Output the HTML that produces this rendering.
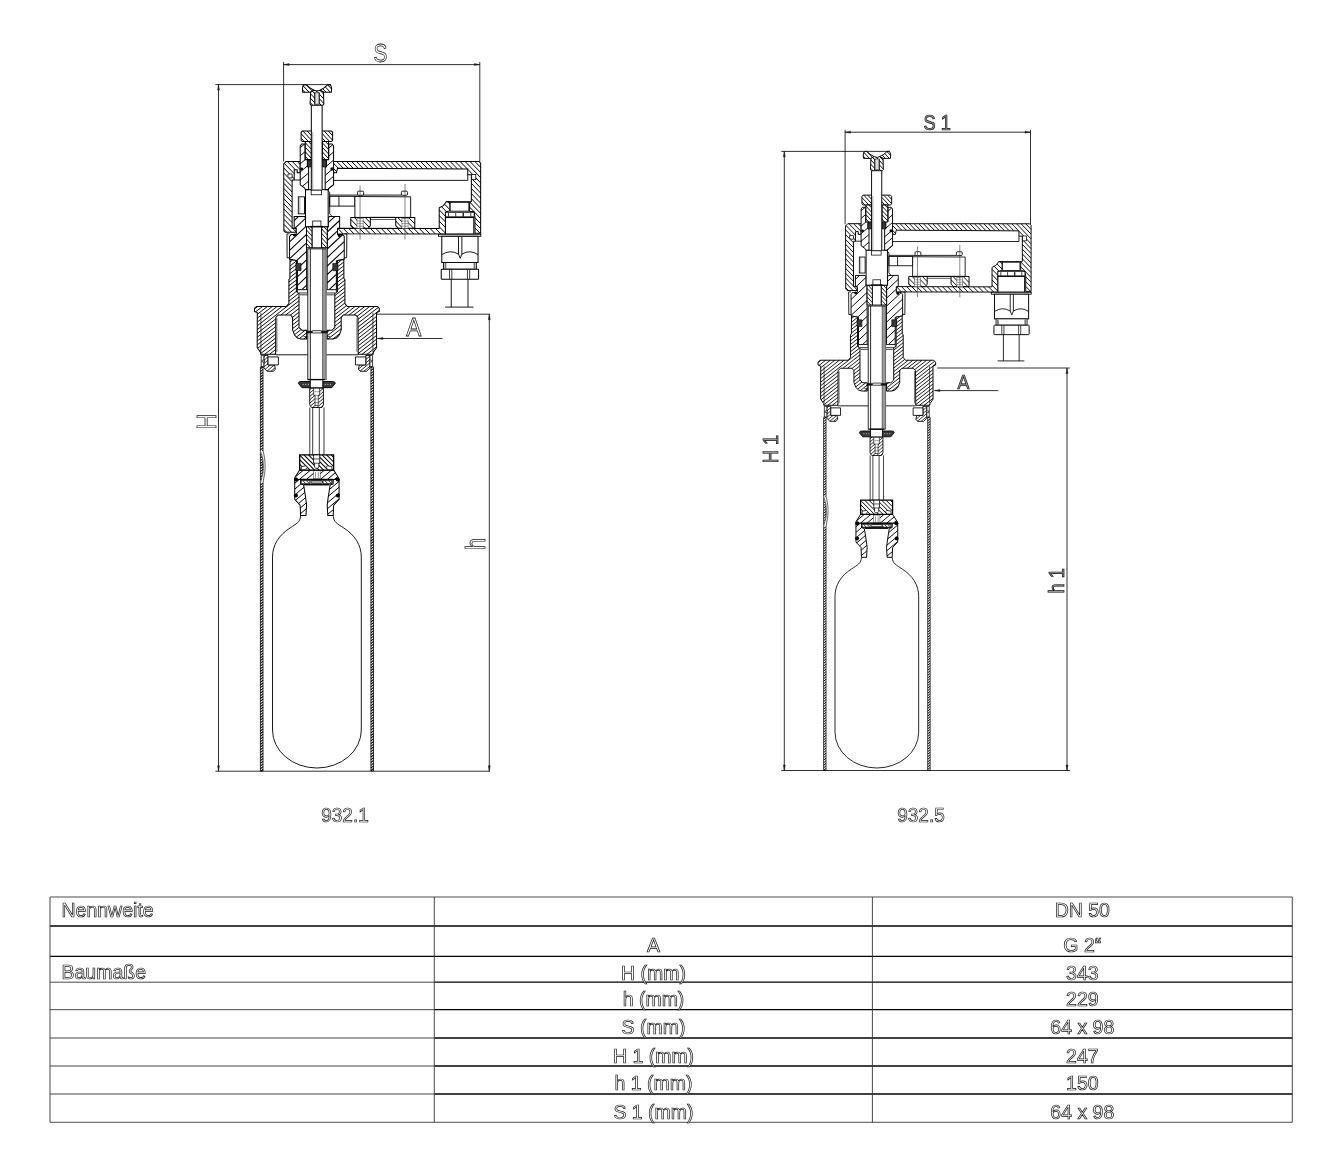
<!DOCTYPE html>
<html lang="de"><head><meta charset="utf-8"><title>932.1 / 932.5</title>
<style>
html,body{margin:0;padding:0;background:#fff;}
svg{display:block;}
text{font-family:"Liberation Sans",sans-serif;}
svg{filter:grayscale(1);}
</style></head><body>
<svg width="1343" height="1166" viewBox="0 0 1343 1166">
<g>
<polygon points="333.23,161.42 479.09,161.53 480.63,163.17 480.63,233.36 474.97,233.36 474.97,216.89 473.94,211.75 469.62,211.23 469.62,202.69 471.37,201.46 471.37,174.70 467.77,174.70 467.77,169.04 337.43,168.33 336.53,172.83 334.13,172.83 333.23,170.43" fill="#fff" stroke="none"/>
<path d="M474.9 161.5L480.6 167.4M470.0 161.5L480.6 172.5M465.1 161.5L480.6 177.6M460.1 161.5L467.4 169.0M467.8 169.4L480.6 182.8M455.2 161.5L462.4 169.0M467.8 174.5L467.9 174.7M471.4 178.3L480.6 187.9M450.2 161.5L457.5 169.0M471.4 183.4L480.6 193.0M445.3 161.5L452.5 169.0M471.4 188.5L480.6 198.1M440.4 161.5L447.5 168.9M471.4 193.6L480.6 203.2M435.4 161.5L442.6 168.9M471.4 198.7L480.6 208.3M430.5 161.5L437.6 168.9M470.0 202.4L480.6 213.4M425.6 161.5L432.7 168.8M469.6 207.1L480.6 218.5M420.6 161.5L427.7 168.8M475.0 217.8L480.6 223.6M415.7 161.5L422.7 168.8M475.0 222.9L480.6 228.7M410.7 161.5L417.8 168.8M475.0 228.0L480.2 233.4M405.8 161.5L412.8 168.7M475.0 233.1L475.2 233.4M400.9 161.5L407.9 168.7M395.9 161.5L402.9 168.7M391.0 161.5L397.9 168.7M386.0 161.5L393.0 168.6M381.1 161.5L388.0 168.6M376.2 161.5L383.0 168.6M371.2 161.4L378.1 168.6M366.3 161.4L373.1 168.5M361.3 161.4L368.2 168.5M356.4 161.4L363.2 168.5M351.5 161.4L358.2 168.4M346.5 161.4L353.3 168.4M341.6 161.4L348.3 168.4M336.7 161.4L343.4 168.4M333.2 163.0L338.4 168.3M333.2 168.1L336.7 171.7" stroke="#000" stroke-width="0.99" fill="none"/>
<polygon points="333.23,161.42 479.09,161.53 480.63,163.17 480.63,233.36 474.97,233.36 474.97,216.89 473.94,211.75 469.62,211.23 469.62,202.69 471.37,201.46 471.37,174.70 467.77,174.70 467.77,169.04 337.43,168.33 336.53,172.83 334.13,172.83 333.23,170.43" fill="none" stroke="#000" stroke-width="1.01"/>
<line x1="333.23" y1="180.40" x2="467.77" y2="180.36" stroke="#000" stroke-width="0.90"/>
<line x1="467.77" y1="174.70" x2="467.77" y2="180.36" stroke="#000" stroke-width="0.90"/>
<rect x="471.68" y="174.49" width="4.11" height="5.15" rx="0" fill="#fff" stroke="#000" stroke-width="0.78"/>
<polygon points="283.70,163.83 286.10,161.42 300.21,161.42 300.21,172.83 297.21,172.83 297.21,169.83 294.21,169.83 294.21,180.03 292.11,180.03 292.13,228.21 296.24,228.21 296.24,232.33 285.44,232.33 283.89,230.79" fill="#fff" stroke="none"/>
<path d="M297.2 161.4L300.2 164.6M292.2 161.4L300.2 169.7M287.3 161.4L295.4 169.8M297.2 171.7L298.3 172.8M284.2 163.3L294.2 173.7M283.7 167.9L294.2 178.8M283.7 173.0L292.1 181.7M283.7 178.2L292.1 186.8M283.8 183.3L292.1 192.0M283.8 188.4L292.1 197.1M283.8 193.5L292.1 202.2M283.8 198.7L292.1 207.3M283.8 203.8L292.1 212.4M283.8 208.9L292.1 217.5M283.8 214.1L292.1 222.6M283.9 219.2L292.1 227.7M292.6 228.2L296.2 232.0M283.9 224.3L291.6 232.3M283.9 229.4L286.7 232.3" stroke="#000" stroke-width="0.99" fill="none"/>
<polygon points="283.70,163.83 286.10,161.42 300.21,161.42 300.21,172.83 297.21,172.83 297.21,169.83 294.21,169.83 294.21,180.03 292.11,180.03 292.13,228.21 296.24,228.21 296.24,232.33 285.44,232.33 283.89,230.79" fill="none" stroke="#000" stroke-width="1.01"/>
<polygon points="287.91,174.03 292.11,174.03 292.11,177.93 289.11,177.93 287.91,176.43" fill="#fff" stroke="#000" stroke-width="0.78"/>
<line x1="294.21" y1="180.03" x2="300.21" y2="180.03" stroke="#000" stroke-width="0.90"/>
<polygon points="337.41,228.21 439.22,228.48 439.22,207.84 443.46,205.61 446.25,201.71 449.93,201.71 449.93,210.63 445.46,212.30 445.46,234.05 337.41,233.87" fill="#fff" stroke="none"/>
<path d="M447.6 201.7L449.9 204.1M444.5 204.1L449.9 209.7M441.5 206.6L446.6 211.9M439.2 209.9L445.5 216.3M439.2 215.5L445.5 222.0M439.2 221.1L445.5 227.6M439.2 226.7L445.5 233.2M435.5 228.5L440.9 234.0M430.1 228.5L435.4 234.0M424.6 228.4L430.0 234.0M419.2 228.4L424.6 234.0M413.7 228.4L419.2 234.0M408.3 228.4L413.7 234.0M402.9 228.4L408.3 234.0M397.4 228.4L402.9 234.0M392.0 228.4L397.4 234.0M386.6 228.3L392.0 234.0M381.1 228.3L386.6 234.0M375.7 228.3L381.1 233.9M370.3 228.3L375.7 233.9M364.8 228.3L370.3 233.9M359.4 228.3L364.8 233.9M354.0 228.3L359.4 233.9M348.5 228.2L354.0 233.9M343.1 228.2L348.6 233.9M337.7 228.2L343.1 233.9M337.4 233.6L337.7 233.9" stroke="#000" stroke-width="0.99" fill="none"/>
<polygon points="337.41,228.21 439.22,228.48 439.22,207.84 443.46,205.61 446.25,201.71 449.93,201.71 449.93,210.63 445.46,212.30 445.46,234.05 337.41,233.87" fill="none" stroke="#000" stroke-width="1.01"/>
<rect x="450.15" y="202.27" width="18.73" height="8.92" rx="0" fill="#fff" stroke="#000" stroke-width="0.90"/>
<line x1="446.25" y1="201.71" x2="470.78" y2="201.71" stroke="#000" stroke-width="1.01"/>
<rect x="445.46" y="212.30" width="28.67" height="4.47" rx="0" fill="#fff" stroke="#000" stroke-width="0.78"/>
<line x1="448.48" y1="212.86" x2="448.48" y2="216.54" stroke="#000" stroke-width="0.78"/>
<line x1="455.72" y1="212.86" x2="455.72" y2="216.54" stroke="#000" stroke-width="0.78"/>
<line x1="463.53" y1="212.86" x2="463.53" y2="216.54" stroke="#000" stroke-width="0.78"/>
<line x1="470.78" y1="212.86" x2="470.78" y2="216.54" stroke="#000" stroke-width="0.78"/>
<line x1="462.97" y1="212.86" x2="462.97" y2="216.54" stroke="#000" stroke-width="0.78"/>
<rect x="445.46" y="217.55" width="28.33" height="16.50" rx="0" fill="#fff" stroke="#000" stroke-width="1.01"/>
<rect x="438.44" y="234.27" width="42.38" height="2.01" rx="0" fill="#fff" stroke="#000" stroke-width="0.90"/>
<rect x="441.78" y="236.28" width="36.25" height="26.21" rx="0" fill="#fff" stroke="#000" stroke-width="1.01"/>
<line x1="458.51" y1="236.28" x2="458.51" y2="254.13" stroke="#000" stroke-width="0.90"/>
<line x1="461.86" y1="236.28" x2="461.86" y2="254.13" stroke="#000" stroke-width="0.90"/>
<path d="M441.78,254.68 Q450.15,249.11 458.51,254.13 L460.19,258.25 L461.86,254.13 Q470.22,249.11 478.03,254.68" fill="none" stroke="#000" stroke-width="0.90"/>
<rect x="443.46" y="262.49" width="32.90" height="6.69" rx="0" fill="#fff" stroke="#000" stroke-width="0.90"/>
<line x1="445.46" y1="263.05" x2="445.46" y2="268.96" stroke="#777" stroke-width="1.79"/>
<line x1="474.46" y1="263.05" x2="474.46" y2="268.96" stroke="#777" stroke-width="1.79"/>
<rect x="441.23" y="269.18" width="37.36" height="10.04" rx="0.8" fill="#fff" stroke="#000" stroke-width="1.01"/>
<line x1="449.59" y1="269.40" x2="449.59" y2="279.00" stroke="#000" stroke-width="0.78"/>
<line x1="451.82" y1="269.40" x2="451.82" y2="279.00" stroke="#000" stroke-width="0.78"/>
<line x1="467.43" y1="269.40" x2="467.43" y2="279.00" stroke="#000" stroke-width="0.78"/>
<line x1="469.67" y1="269.40" x2="469.67" y2="279.00" stroke="#000" stroke-width="0.78"/>
<line x1="451.26" y1="279.22" x2="451.26" y2="307.10" stroke="#000" stroke-width="0.90"/>
<line x1="467.99" y1="279.22" x2="467.99" y2="307.10" stroke="#000" stroke-width="0.90"/>
<line x1="445.13" y1="307.10" x2="473.57" y2="307.10" stroke="#000" stroke-width="0.90"/>
<rect x="329.69" y="196.31" width="25.21" height="9.78" rx="0" fill="#fff" stroke="#000" stroke-width="0.90"/>
<line x1="338.95" y1="196.31" x2="338.95" y2="206.09" stroke="#000" stroke-width="0.90"/>
<polygon points="354.90,196.52 410.65,196.83 410.65,217.41 354.90,217.41" fill="#fff" stroke="#000" stroke-width="0.90"/>
<line x1="329.69" y1="195.08" x2="401.90" y2="195.08" stroke="#000" stroke-width="0.90"/>
<rect x="357.48" y="191.16" width="6.17" height="4.12" rx="1.2" fill="#fff" stroke="#000" stroke-width="0.90"/>
<rect x="401.39" y="191.16" width="6.17" height="4.12" rx="1.2" fill="#fff" stroke="#000" stroke-width="0.90"/>
<polygon points="350.79,217.41 370.34,217.41 370.34,225.64 368.28,228.21 353.36,228.21 350.79,225.64" fill="#fff" stroke="none"/>
<path d="M365.2 217.4L370.3 222.8M359.8 217.4L369.1 227.1M354.3 217.4L364.8 228.2M350.8 219.4L359.3 228.2M350.8 225.0L353.9 228.2" stroke="#000" stroke-width="0.99" fill="none"/>
<polygon points="350.79,217.41 370.34,217.41 370.34,225.64 368.28,228.21 353.36,228.21 350.79,225.64" fill="none" stroke="#000" stroke-width="1.01"/>
<polygon points="395.73,217.41 414.77,217.41 414.77,228.21 398.30,228.21 395.73,225.64" fill="#fff" stroke="none"/>
<path d="M414.0 217.4L414.8 218.2M408.5 217.4L414.8 223.9M403.1 217.4L413.6 228.2M397.7 217.4L408.1 228.2M395.7 221.0L402.7 228.2" stroke="#000" stroke-width="0.99" fill="none"/>
<polygon points="395.73,217.41 414.77,217.41 414.77,228.21 398.30,228.21 395.73,225.64" fill="none" stroke="#000" stroke-width="1.01"/>
<rect x="356.96" y="218.44" width="6.18" height="9.77" rx="0" fill="#fff" stroke="#555" stroke-width="0.56"/>
<rect x="401.90" y="218.44" width="6.18" height="9.77" rx="0" fill="#fff" stroke="#555" stroke-width="0.56"/>
<line x1="356.96" y1="221.01" x2="363.14" y2="221.01" stroke="#555" stroke-width="0.56"/>
<line x1="401.90" y1="221.01" x2="408.08" y2="221.01" stroke="#555" stroke-width="0.56"/>
<line x1="356.96" y1="223.58" x2="363.14" y2="223.58" stroke="#555" stroke-width="0.56"/>
<line x1="401.90" y1="223.58" x2="408.08" y2="223.58" stroke="#555" stroke-width="0.56"/>
<line x1="356.96" y1="226.16" x2="363.14" y2="226.16" stroke="#555" stroke-width="0.56"/>
<line x1="401.90" y1="226.16" x2="408.08" y2="226.16" stroke="#555" stroke-width="0.56"/>
<line x1="370.34" y1="217.41" x2="395.73" y2="217.41" stroke="#000" stroke-width="0.90"/>
<line x1="370.34" y1="219.47" x2="395.73" y2="219.47" stroke="#000" stroke-width="0.67"/>
<line x1="360.05" y1="185.50" x2="360.05" y2="239.53" stroke="#444" stroke-width="0.67"/>
<line x1="404.99" y1="183.96" x2="404.99" y2="239.53" stroke="#444" stroke-width="0.67"/>
<polygon points="289.55,259.09 289.55,236.45 291.10,234.39 296.24,234.39 296.24,228.21 294.18,228.21 294.18,216.38 304.48,216.38 305.50,217.92 305.50,226.67 306.53,226.67 306.67,289.69 297.41,289.69 297.41,260.87 289.69,259.33" fill="#fff" stroke="none"/>
<path d="M294.2 220.5L298.6 216.4M295.0 228.2L305.5 218.4M289.6 241.8L305.7 226.7M289.6 250.3L306.5 234.4M289.6 258.7L306.6 242.9M296.5 260.7L306.6 251.3M297.4 268.4L306.6 259.8M297.4 276.8L306.6 268.2M297.4 285.3L306.6 276.7M301.8 289.7L306.7 285.2" stroke="#000" stroke-width="1.03" fill="none"/>
<polygon points="289.55,259.09 289.55,236.45 291.10,234.39 296.24,234.39 296.24,228.21 294.18,228.21 294.18,216.38 304.48,216.38 305.50,217.92 305.50,226.67 306.53,226.67 306.67,289.69 297.41,289.69 297.41,260.87 289.69,259.33" fill="none" stroke="#000" stroke-width="1.01"/>
<polygon points="344.25,259.09 344.25,236.45 342.70,234.39 337.56,234.39 337.56,228.21 339.62,228.21 339.62,216.38 329.32,216.38 328.30,217.92 328.30,226.67 327.27,226.67 327.13,289.69 336.39,289.69 336.39,260.87 344.11,259.33" fill="#fff" stroke="none"/>
<path d="M328.3 222.6L335.0 216.4M327.3 232.0L339.6 220.5M327.2 240.5L337.6 230.9M327.2 249.0L342.8 234.5M327.2 257.5L344.2 241.6M327.2 266.0L344.2 250.1M327.2 274.5L336.4 265.9M343.3 259.5L344.2 258.6M327.1 283.0L336.4 274.4M329.1 289.7L336.4 282.9" stroke="#000" stroke-width="1.03" fill="none"/>
<polygon points="344.25,259.09 344.25,236.45 342.70,234.39 337.56,234.39 337.56,228.21 339.62,228.21 339.62,216.38 329.32,216.38 328.30,217.92 328.30,226.67 327.27,226.67 327.13,289.69 336.39,289.69 336.39,260.87 344.11,259.33" fill="none" stroke="#000" stroke-width="1.01"/>
<polyline points="289.55,233.87 286.98,233.87 287.12,257.79 289.69,257.79" fill="none" stroke="#000" stroke-width="0.90"/>
<polyline points="344.25,233.87 346.82,233.87 346.68,257.79 344.11,257.79" fill="none" stroke="#000" stroke-width="0.90"/>
<circle cx="294.49" cy="235.01" r="1.3" fill="#111"/>
<circle cx="339.16" cy="235.42" r="1.3" fill="#111"/>
<polyline points="328.15,191.16 329.69,192.19 329.69,213.81 331.75,216.07" fill="none" stroke="#000" stroke-width="0.90"/>
<polygon points="306.53,226.67 312.19,226.67 312.19,247.77 306.53,247.77" fill="#fff" stroke="none"/>
<path d="M311.6 226.7L312.2 227.3M307.6 226.7L312.2 231.8M306.5 230.0L312.2 236.3M306.5 234.5L312.2 240.8M306.5 239.0L312.2 245.3M306.5 243.5L310.4 247.8" stroke="#000" stroke-width="0.89" fill="none"/>
<polygon points="306.53,226.67 312.19,226.67 312.19,247.77 306.53,247.77" fill="none" stroke="#000" stroke-width="1.01"/>
<polygon points="327.27,226.67 321.61,226.67 321.61,247.77 327.27,247.77" fill="#fff" stroke="none"/>
<path d="M323.7 226.7L327.3 230.6M321.6 228.8L327.3 235.1M321.6 233.3L327.3 239.6M321.6 237.8L327.3 244.1M321.6 242.3L326.6 247.8M321.6 246.8L322.5 247.8" stroke="#000" stroke-width="0.89" fill="none"/>
<polygon points="327.27,226.67 321.61,226.67 321.61,247.77 327.27,247.77" fill="none" stroke="#000" stroke-width="1.01"/>
<rect x="305.50" y="189.62" width="22.65" height="37.05" rx="0" fill="#fff" stroke="#000" stroke-width="1.01"/>
<rect x="311.16" y="189.62" width="10.30" height="5.15" rx="0" fill="#fff" stroke="#000" stroke-width="0.78"/>
<rect x="312.71" y="221.01" width="8.23" height="5.66" rx="0" fill="#fff" stroke="#000" stroke-width="0.78"/>
<line x1="310.65" y1="189.72" x2="321.97" y2="189.72" stroke="#000" stroke-width="1.79"/>
<line x1="310.65" y1="226.77" x2="323.00" y2="226.77" stroke="#000" stroke-width="1.79"/>
<rect x="298.30" y="196.83" width="6.18" height="16.98" rx="0" fill="#fff" stroke="#000" stroke-width="0.90"/>
<line x1="299.84" y1="196.83" x2="299.84" y2="213.81" stroke="#666" stroke-width="0.56"/>
<rect x="312.19" y="226.98" width="9.27" height="20.79" rx="0" fill="#fff" stroke="#000" stroke-width="0.90"/>
<polygon points="300.21,145.81 301.71,144.01 305.02,144.01 305.02,159.32 307.42,159.32 307.42,166.83 308.62,166.83 308.59,189.62 305.50,189.62 304.42,187.84 300.21,184.84" fill="#fff" stroke="none"/>
<path d="M300.2 147.7L304.6 144.0M300.2 155.8L305.0 151.7M300.2 163.9L305.6 159.3M300.2 172.0L307.4 165.9M300.2 180.0L308.6 173.0M302.3 186.4L308.6 181.1M308.1 189.6L308.6 189.2" stroke="#000" stroke-width="0.99" fill="none"/>
<polygon points="300.21,145.81 301.71,144.01 305.02,144.01 305.02,159.32 307.42,159.32 307.42,166.83 308.62,166.83 308.59,189.62 305.50,189.62 304.42,187.84 300.21,184.84" fill="none" stroke="#000" stroke-width="1.01"/>
<polygon points="333.59,145.81 332.09,144.01 328.78,144.01 328.78,159.32 326.38,159.32 326.38,166.83 325.18,166.83 325.21,189.62 328.30,189.62 329.38,187.84 333.59,184.84" fill="#fff" stroke="none"/>
<path d="M328.8 148.0L332.7 144.7M328.8 156.1L333.6 152.0M325.2 167.2L325.6 166.8M326.4 166.2L333.6 160.1M325.2 175.3L333.6 168.2M325.2 183.4L333.6 176.3M327.4 189.6L329.3 188.0M330.2 187.3L333.6 184.4" stroke="#000" stroke-width="0.99" fill="none"/>
<polygon points="333.59,145.81 332.09,144.01 328.78,144.01 328.78,159.32 326.38,159.32 326.38,166.83 325.18,166.83 325.21,189.62 328.30,189.62 329.38,187.84 333.59,184.84" fill="none" stroke="#000" stroke-width="1.01"/>
<polygon points="307.42,160.10 311.62,160.10 311.62,166.95 307.42,166.95" fill="#383838" stroke="#000" stroke-width="0.67"/>
<polygon points="326.38,160.10 322.18,160.10 322.18,166.95 326.38,166.95" fill="#383838" stroke="#000" stroke-width="0.67"/>
<polygon points="302.31,131.11 331.43,131.11 332.63,132.31 332.63,140.41 331.43,141.61 302.31,141.61 301.11,140.41 301.11,132.31" fill="#fff" stroke="none"/>
<path d="M328.4 131.1L332.6 135.7M324.2 131.1L332.6 140.2M319.9 131.1L329.7 141.6M315.7 131.1L325.5 141.6M311.4 131.1L321.2 141.6M307.2 131.1L317.0 141.6M303.0 131.1L312.7 141.6M301.1 133.7L308.5 141.6M301.1 138.2L304.3 141.6" stroke="#000" stroke-width="0.99" fill="none"/>
<polygon points="302.31,131.11 331.43,131.11 332.63,132.31 332.63,140.41 331.43,141.61 302.31,141.61 301.11,140.41 301.11,132.31" fill="none" stroke="#000" stroke-width="1.01"/>
<polygon points="305.32,141.61 311.32,141.61 311.32,159.62 305.32,159.62" fill="#fff" stroke="none"/>
<path d="M308.5 141.6L311.3 144.6M305.3 142.7L311.3 149.2M305.3 147.3L311.3 153.7M305.3 151.8L311.3 158.3M305.3 156.4L308.4 159.6" stroke="#000" stroke-width="0.99" fill="none"/>
<polygon points="305.32,141.61 311.32,141.61 311.32,159.62 305.32,159.62" fill="none" stroke="#000" stroke-width="1.01"/>
<polygon points="328.48,141.61 322.48,141.61 322.48,159.62 328.48,159.62" fill="#fff" stroke="none"/>
<path d="M325.5 141.6L328.5 144.8M322.5 143.0L328.5 149.4M322.5 147.5L328.5 153.9M322.5 152.0L328.5 158.5M322.5 156.6L325.3 159.6" stroke="#000" stroke-width="0.99" fill="none"/>
<polygon points="328.48,141.61 322.48,141.61 322.48,159.62 328.48,159.62" fill="none" stroke="#000" stroke-width="1.01"/>
<rect x="311.32" y="105.2" width="10.81" height="84.42" fill="#fff"/>
<line x1="311.32" y1="105.20" x2="311.32" y2="189.62" stroke="#000" stroke-width="1.01"/>
<line x1="322.13" y1="105.20" x2="322.13" y2="189.62" stroke="#000" stroke-width="1.01"/>
<line x1="312.72" y1="132.20" x2="312.72" y2="189.62" stroke="#555" stroke-width="0.56"/>
<polygon points="302.42,88.52 303.14,85.64 304.48,84.72 306.23,84.72 309.62,87.70 314.05,90.27 310.65,92.13 302.73,92.13" fill="#fff" stroke="none"/>
<path d="M306.8 85.2L312.4 91.2M303.1 85.8L309.0 92.1M302.5 89.7L304.8 92.1" stroke="#000" stroke-width="0.99" fill="none"/>
<polygon points="302.42,88.52 303.14,85.64 304.48,84.72 306.23,84.72 309.62,87.70 314.05,90.27 310.65,92.13 302.73,92.13" fill="none" stroke="#000" stroke-width="1.01"/>
<polygon points="331.64,88.52 330.92,85.64 329.58,84.72 327.83,84.72 324.44,87.70 320.01,90.27 323.41,92.13 331.33,92.13" fill="#fff" stroke="none"/>
<path d="M327.7 84.9L331.6 89.1M325.3 86.9L330.2 92.1M322.7 88.7L326.0 92.1" stroke="#000" stroke-width="0.99" fill="none"/>
<polygon points="331.64,88.52 330.92,85.64 329.58,84.72 327.83,84.72 324.44,87.70 320.01,90.27 323.41,92.13 331.33,92.13" fill="none" stroke="#000" stroke-width="1.01"/>
<polygon points="310.65,92.13 314.05,90.27 317.03,91.10 320.02,90.27 323.51,92.13 323.82,103.96 322.79,105.20 311.16,105.20 310.14,103.96" fill="#fff" stroke="none"/>
<path d="M320.0 90.3L323.6 94.1M316.3 90.9L323.7 98.8M312.4 91.2L323.8 103.5M310.6 93.8L321.2 105.2M310.4 98.2L316.9 105.2M310.2 102.5L312.7 105.2" stroke="#000" stroke-width="0.99" fill="none"/>
<polygon points="310.65,92.13 314.05,90.27 317.03,91.10 320.02,90.27 323.51,92.13 323.82,103.96 322.79,105.20 311.16,105.20 310.14,103.96" fill="none" stroke="#000" stroke-width="1.01"/>
<rect x="314.46" y="92.85" width="5.14" height="11.32" rx="0" fill="#fff" stroke="#000" stroke-width="0.78"/>
<rect x="315.28" y="92.85" width="3.50" height="11.32" rx="0" fill="#ddd" stroke="#555" stroke-width="0.56"/>
<polygon points="290.00,259.50 289.90,278.50 288.90,279.50 288.90,303.50 286.50,306.40 256.50,306.40 254.50,308.40 254.50,311.50 257.30,312.60 257.20,347.70 260.60,352.50 260.60,354.20 275.60,354.20 275.80,317.50 278.30,314.90 290.50,314.90 292.60,317.50 292.60,330.00 294.50,335.00 297.50,338.00 301.00,339.10 306.70,339.10 306.70,330.30 302.00,330.30 299.00,327.50 299.00,291.70 296.40,291.70 296.40,260.50" fill="#fff" stroke="none"/>
<path d="M290.0 262.1L292.8 259.9M290.0 266.0L296.4 260.9M289.9 269.8L296.4 264.8M289.9 273.6L296.4 268.6M289.9 277.4L296.4 272.4M254.5 308.9L257.7 306.4M288.9 282.0L296.4 276.2M255.5 311.9L262.6 306.4M288.9 285.8L296.4 280.0M257.3 314.3L267.5 306.4M288.9 289.6L296.4 283.8M257.3 318.2L272.3 306.4M288.9 293.5L296.4 287.6M257.3 322.0L277.2 306.4M288.9 297.3L296.4 291.4M257.3 325.8L282.1 306.4M288.9 301.1L299.0 293.2M257.3 329.6L299.0 297.0M257.2 333.4L275.8 318.9M280.9 314.9L299.0 300.8M257.2 337.2L275.8 322.7M285.8 314.9L299.0 304.6M257.2 341.0L275.8 326.6M290.6 315.0L299.0 308.4M257.2 344.9L275.7 330.4M292.5 317.3L299.0 312.2M257.6 348.3L275.7 334.2M292.6 321.0L299.0 316.0M259.4 350.8L275.7 338.0M292.6 324.8L299.0 319.8M260.6 353.6L275.7 341.9M292.6 328.6L299.0 323.6M264.8 354.2L275.6 345.7M293.3 331.9L299.0 327.4M269.6 354.2L275.6 349.5M294.4 334.8L301.2 329.5M274.5 354.2L275.6 353.3M296.5 337.0L305.1 330.3M299.4 338.6L306.7 332.8M303.6 339.1L306.7 336.7" stroke="#000" stroke-width="0.94" fill="none"/>
<polygon points="290.00,259.50 289.90,278.50 288.90,279.50 288.90,303.50 286.50,306.40 256.50,306.40 254.50,308.40 254.50,311.50 257.30,312.60 257.20,347.70 260.60,352.50 260.60,354.20 275.60,354.20 275.80,317.50 278.30,314.90 290.50,314.90 292.60,317.50 292.60,330.00 294.50,335.00 297.50,338.00 301.00,339.10 306.70,339.10 306.70,330.30 302.00,330.30 299.00,327.50 299.00,291.70 296.40,291.70 296.40,260.50" fill="none" stroke="#000" stroke-width="1.01"/>
<polygon points="343.80,259.50 343.90,278.50 344.90,279.50 344.90,303.50 347.30,306.40 377.30,306.40 379.30,308.40 379.30,311.50 376.50,312.60 376.60,347.70 373.20,352.50 373.20,354.20 358.20,354.20 358.00,317.50 355.50,314.90 343.30,314.90 341.20,317.50 341.20,330.00 339.30,335.00 336.30,338.00 332.80,339.10 327.10,339.10 327.10,330.30 331.80,330.30 334.80,327.50 334.80,291.70 337.40,291.70 337.40,260.50" fill="#fff" stroke="none"/>
<path d="M337.4 263.2L341.7 259.8M337.4 267.0L343.8 262.0M337.4 270.8L343.8 265.8M337.4 274.6L343.9 269.6M337.4 278.4L343.9 273.3M337.4 282.2L343.9 277.1M337.4 286.0L344.9 280.2M334.8 291.9L335.0 291.7M337.4 289.8L344.9 284.0M334.8 295.7L344.9 287.8M334.8 299.5L344.9 291.6M334.8 303.3L344.9 295.4M334.8 307.1L344.9 299.2M334.8 310.9L344.9 303.0M334.8 314.7L346.6 305.5M334.8 318.5L350.3 306.4M334.8 322.3L341.6 317.0M344.3 314.9L355.2 306.4M327.1 332.1L329.5 330.3M334.8 326.1L341.2 321.1M349.2 314.9L360.0 306.4M327.1 335.9L341.2 324.9M354.0 314.9L364.9 306.4M327.9 339.1L341.2 328.7M357.0 316.4L369.8 306.4M332.8 339.1L339.8 333.6M358.0 319.4L374.7 306.4M358.0 323.2L378.3 307.4M358.1 327.0L379.3 310.4M358.1 330.8L376.5 316.4M358.1 334.6L376.5 320.2M358.1 338.4L376.5 324.0M358.1 342.2L376.5 327.8M358.2 345.9L376.6 331.6M358.2 349.7L376.6 335.4M358.2 353.5L376.6 339.2M362.2 354.2L376.6 343.0M367.1 354.2L376.6 346.8M372.0 354.2L373.2 353.2" stroke="#000" stroke-width="0.94" fill="none"/>
<polygon points="343.80,259.50 343.90,278.50 344.90,279.50 344.90,303.50 347.30,306.40 377.30,306.40 379.30,308.40 379.30,311.50 376.50,312.60 376.60,347.70 373.20,352.50 373.20,354.20 358.20,354.20 358.00,317.50 355.50,314.90 343.30,314.90 341.20,317.50 341.20,330.00 339.30,335.00 336.30,338.00 332.80,339.10 327.10,339.10 327.10,330.30 331.80,330.30 334.80,327.50 334.80,291.70 337.40,291.70 337.40,260.50" fill="none" stroke="#000" stroke-width="1.01"/>
<polyline points="260.90,312.80 260.90,352.00" fill="none" stroke="#000" stroke-width="0.67"/>
<polyline points="372.90,312.80 372.90,352.00" fill="none" stroke="#000" stroke-width="0.67"/>
<polyline points="276.90,318.00 276.90,352.00" fill="none" stroke="#000" stroke-width="0.56"/>
<polyline points="356.90,318.00 356.90,352.00" fill="none" stroke="#000" stroke-width="0.56"/>
<polygon points="295.86,263.45 301.01,263.45 301.01,270.65 295.86,270.65" fill="#383838" stroke="#000" stroke-width="0.67"/>
<polygon points="337.94,263.45 332.79,263.45 332.79,270.65 337.94,270.65" fill="#383838" stroke="#000" stroke-width="0.67"/>
<polygon points="297.41,289.69 307.70,289.69 307.70,292.98 297.41,292.98" fill="#fff" stroke="#000" stroke-width="0.78"/>
<polygon points="336.39,289.69 326.10,289.69 326.10,292.98 336.39,292.98" fill="#fff" stroke="#000" stroke-width="0.78"/>
<polyline points="299.98,294.83 307.70,294.83" fill="none" stroke="#000" stroke-width="0.78"/>
<polyline points="333.82,294.83 326.10,294.83" fill="none" stroke="#000" stroke-width="0.78"/>
<polyline points="303.58,336.51 306.67,336.51 306.67,339.09" fill="none" stroke="#000" stroke-width="0.67"/>
<polyline points="330.22,336.51 327.13,336.51 327.13,339.09" fill="none" stroke="#000" stroke-width="0.67"/>
<polyline points="275.80,354.80 307.80,354.80" fill="none" stroke="#000" stroke-width="0.90"/>
<polyline points="358.00,354.80 326.00,354.80" fill="none" stroke="#000" stroke-width="0.90"/>
<polygon points="263.83,355.40 268.00,355.40 268.00,364.93 274.55,364.93 275.38,369.10 273.60,371.24 267.16,371.24 263.83,367.91" fill="#fff" stroke="none"/>
<path d="M263.8 356.9L265.6 355.4M263.8 360.3L268.0 356.8M263.8 363.7L268.0 360.2M263.8 367.0L268.0 363.5M265.2 369.3L270.4 364.9M267.1 371.1L274.4 364.9M271.0 371.2L275.1 367.8" stroke="#000" stroke-width="0.8" fill="none"/>
<polygon points="263.83,355.40 268.00,355.40 268.00,364.93 274.55,364.93 275.38,369.10 273.60,371.24 267.16,371.24 263.83,367.91" fill="none" stroke="#000" stroke-width="0.90"/>
<polygon points="369.97,355.40 365.80,355.40 365.80,364.93 359.25,364.93 358.42,369.10 360.20,371.24 366.64,371.24 369.97,367.91" fill="#fff" stroke="none"/>
<path d="M365.8 356.2L366.7 355.4M359.2 365.1L359.4 364.9M365.8 359.5L370.0 356.0M358.4 369.1L363.4 364.9M365.8 362.9L370.0 359.4M360.1 371.1L370.0 362.8M364.0 371.2L370.0 366.2" stroke="#000" stroke-width="0.8" fill="none"/>
<polygon points="369.97,355.40 365.80,355.40 365.80,364.93 359.25,364.93 358.42,369.10 360.20,371.24 366.64,371.24 369.97,367.91" fill="none" stroke="#000" stroke-width="0.90"/>
<polygon points="268.00,356.95 278.36,356.95 278.36,364.93 268.00,364.93" fill="#fff" stroke="#000" stroke-width="0.90"/>
<polygon points="365.80,356.95 355.44,356.95 355.44,364.93 365.80,364.93" fill="#fff" stroke="#000" stroke-width="0.90"/>
<polygon points="261.21,355.40 263.83,355.40 263.83,366.72 261.21,366.72" fill="#fff" stroke="#000" stroke-width="0.78"/>
<polygon points="372.59,355.40 369.97,355.40 369.97,366.72 372.59,366.72" fill="#fff" stroke="#000" stroke-width="0.78"/>
<polygon points="262.04,360.16 264.42,360.16 264.42,361.95 262.04,361.95" fill="#fff" stroke="#000" stroke-width="0.67"/>
<polygon points="371.76,360.16 369.38,360.16 369.38,361.95 371.76,361.95" fill="#fff" stroke="#000" stroke-width="0.67"/>
<rect x="307.8" y="248.83" width="18.6" height="131.23" fill="#fff"/>
<rect x="322.6" y="248.83" width="3.6" height="131.23" fill="#999"/>
<line x1="307.80" y1="248.83" x2="307.80" y2="380.06" stroke="#000" stroke-width="0.90"/>
<line x1="310.30" y1="248.83" x2="310.30" y2="380.06" stroke="#000" stroke-width="0.90"/>
<line x1="322.60" y1="248.83" x2="322.60" y2="380.06" stroke="#444" stroke-width="0.78"/>
<line x1="326.20" y1="248.83" x2="326.20" y2="380.06" stroke="#444" stroke-width="0.78"/>
<line x1="307.80" y1="248.83" x2="326.20" y2="248.83" stroke="#000" stroke-width="0.90"/>
<polygon points="306.67,331.16 312.33,331.16 312.33,332.91 306.67,332.91" fill="#111" stroke="#000" stroke-width="0.56"/>
<polygon points="327.13,331.16 321.47,331.16 321.47,332.91 327.13,332.91" fill="#111" stroke="#000" stroke-width="0.56"/>
<line x1="312.33" y1="330.65" x2="321.59" y2="330.65" stroke="#000" stroke-width="0.78"/>
<line x1="312.33" y1="332.91" x2="321.59" y2="332.91" stroke="#000" stroke-width="0.78"/>
<path d="M298.38,383.4 Q298.38,381.49 301.0,381.49 L332.69,381.49 Q335.31,381.49 335.31,383.4 L331.73,387.68 L301.95,387.68 Z" fill="#383838" stroke="#000" stroke-width="0.90"/>
<circle cx="303.14" cy="384.35" r="0.55" fill="#ddd"/>
<circle cx="305.76" cy="384.35" r="0.55" fill="#ddd"/>
<circle cx="308.38" cy="384.35" r="0.55" fill="#ddd"/>
<circle cx="325.3" cy="384.35" r="0.55" fill="#ddd"/>
<circle cx="327.92" cy="384.35" r="0.55" fill="#ddd"/>
<circle cx="330.54" cy="384.35" r="0.55" fill="#ddd"/>
<rect x="310.29" y="379.58" width="12.51" height="8.34" rx="0" fill="#fff" stroke="#000" stroke-width="0.90"/>
<line x1="307.91" y1="379.58" x2="325.18" y2="379.58" stroke="#000" stroke-width="1.34"/>
<polygon points="309.69,388.16 323.40,388.16 323.40,404.84 321.97,407.46 311.48,407.46 309.69,404.84" fill="#fff" stroke="none"/>
<path d="M309.7 389.7L311.5 388.2M309.7 393.1L315.5 388.2M309.7 396.4L319.6 388.2M309.7 399.8L323.4 388.3M309.7 403.2L323.4 391.7M310.5 406.0L323.4 395.1M312.7 407.5L323.4 398.5M316.8 407.5L323.4 401.9M320.8 407.5L322.9 405.7" stroke="#000" stroke-width="0.8" fill="none"/>
<polygon points="309.69,388.16 323.40,388.16 323.40,404.84 321.97,407.46 311.48,407.46 309.69,404.84" fill="none" stroke="#000" stroke-width="0.90"/>
<polygon points="313.63,388.16 319.58,388.16 319.58,395.31 318.27,395.31 318.27,405.44 315.06,405.44 315.06,395.31 313.63,395.31" fill="#fff" stroke="#000" stroke-width="0.67"/>
<line x1="314.46" y1="391.73" x2="318.87" y2="391.73" stroke="#444" stroke-width="0.56"/>
<line x1="314.46" y1="395.31" x2="318.87" y2="395.31" stroke="#444" stroke-width="0.56"/>
<line x1="314.46" y1="398.88" x2="318.87" y2="398.88" stroke="#444" stroke-width="0.56"/>
<line x1="314.46" y1="402.46" x2="318.87" y2="402.46" stroke="#444" stroke-width="0.56"/>
<line x1="309.80" y1="407.46" x2="309.80" y2="454.80" stroke="#000" stroke-width="0.78"/>
<line x1="312.70" y1="407.46" x2="312.70" y2="454.80" stroke="#000" stroke-width="0.78"/>
<line x1="319.30" y1="407.46" x2="319.30" y2="454.80" stroke="#000" stroke-width="0.78"/>
<line x1="324.00" y1="407.46" x2="324.00" y2="454.80" stroke="#000" stroke-width="0.78"/>
<polygon points="299.67,470.05 333.63,470.05 338.58,477.83 338.58,479.48 294.72,479.48 294.72,477.83" fill="#fff" stroke="none"/>
<path d="M295.3 476.9L303.5 470.1M299.3 479.5L310.5 470.1M306.3 479.5L317.5 470.1M313.3 479.5L324.5 470.1M320.3 479.5L331.5 470.1M327.3 479.5L335.3 472.7M334.3 479.5L337.8 476.5" stroke="#000" stroke-width="0.99" fill="none"/>
<polygon points="299.67,470.05 333.63,470.05 338.58,477.83 338.58,479.48 294.72,479.48 294.72,477.83" fill="none" stroke="#000" stroke-width="1.01"/>
<rect x="313.58" y="470.75" width="6.61" height="8.12" rx="0" fill="#fff" stroke="#444" stroke-width="0.56"/>
<line x1="315.47" y1="472.17" x2="315.47" y2="478.87" stroke="#444" stroke-width="0.56"/>
<line x1="318.30" y1="472.17" x2="318.30" y2="478.87" stroke="#444" stroke-width="0.56"/>
<polygon points="299.67,454.95 333.63,454.95 333.63,470.05 299.67,470.05" fill="#fff" stroke="none"/>
<path d="M331.1 454.9L333.6 457.5M326.6 454.9L333.6 462.0M322.0 454.9L333.6 466.5M317.5 454.9L332.6 470.1M313.0 454.9L328.1 470.1M308.5 454.9L323.6 470.1M303.9 454.9L319.0 470.1M299.7 455.2L314.5 470.1M299.7 459.7L310.0 470.1M299.7 464.3L305.5 470.1M299.7 468.8L300.9 470.1" stroke="#000" stroke-width="1.03" fill="none"/>
<polygon points="299.67,454.95 333.63,454.95 333.63,470.05 299.67,470.05" fill="none" stroke="#000" stroke-width="1.34"/>
<polygon points="313.58,454.95 319.72,454.95 319.72,463.21 318.87,463.21 318.87,466.98 317.83,468.30 315.47,468.30 314.43,466.98 314.43,463.21 313.58,463.21" fill="#fff" stroke="#000" stroke-width="0.78"/>
<line x1="313.58" y1="458.96" x2="319.72" y2="458.96" stroke="#000" stroke-width="0.67"/>
<line x1="313.58" y1="463.21" x2="319.72" y2="463.21" stroke="#000" stroke-width="0.67"/>
<polygon points="301.32,466.60 306.04,465.80 307.22,467.22 305.57,469.72 301.32,469.72" fill="#fff" stroke="#000" stroke-width="0.78"/>
<polygon points="331.98,466.60 327.26,465.80 326.08,467.22 327.74,469.72 331.98,469.72" fill="#fff" stroke="#000" stroke-width="0.78"/>
<polygon points="294.72,479.48 300.61,479.48 300.61,483.96 303.68,485.14 305.57,497.17 306.60,505.00 306.00,515.60 300.60,515.60 300.14,505.19 294.72,499.29" fill="#fff" stroke="none"/>
<path d="M294.7 483.3L299.3 479.5M294.7 489.2L300.8 484.0M294.7 495.0L304.0 487.2M295.6 500.2L304.8 492.4M298.6 503.5L305.6 497.6M300.3 508.0L306.3 502.9M300.5 513.7L306.4 508.7M305.2 515.6L306.0 514.9" stroke="#000" stroke-width="0.99" fill="none"/>
<polygon points="294.72,479.48 300.61,479.48 300.61,483.96 303.68,485.14 305.57,497.17 306.60,505.00 306.00,515.60 300.60,515.60 300.14,505.19 294.72,499.29" fill="none" stroke="#000" stroke-width="1.01"/>
<polygon points="339.08,479.48 333.19,479.48 333.19,483.96 330.12,485.14 328.23,497.17 327.20,505.00 327.80,515.60 333.20,515.60 333.66,505.19 339.08,499.29" fill="#fff" stroke="none"/>
<path d="M333.2 480.4L334.3 479.5M329.5 489.4L339.1 481.3M328.4 496.2L339.1 487.2M327.5 502.8L339.1 493.1M327.4 508.7L339.1 498.9M327.7 514.3L333.5 509.5" stroke="#000" stroke-width="0.99" fill="none"/>
<polygon points="339.08,479.48 333.19,479.48 333.19,483.96 330.12,485.14 328.23,497.17 327.20,505.00 327.80,515.60 333.20,515.60 333.66,505.19 339.08,499.29" fill="none" stroke="#000" stroke-width="1.01"/>
<line x1="300.14" y1="479.34" x2="332.69" y2="479.34" stroke="#000" stroke-width="1.34"/>
<rect x="300.61" y="480.19" width="31.37" height="3.87" rx="0" fill="#fff" stroke="#000" stroke-width="0.90"/>
<polygon points="301.32,480.66 309.81,480.66 309.81,483.58 301.32,483.58" fill="#fff" stroke="none"/>
<path d="M306.5 480.7L309.4 483.6M302.8 480.7L305.7 483.6M301.3 482.9L302.0 483.6" stroke="#000" stroke-width="0.8" fill="none"/>
<polygon points="301.32,480.66 309.81,480.66 309.81,483.58 301.32,483.58" fill="none" stroke="#000" stroke-width="0.67"/>
<polygon points="323.02,480.66 331.75,480.66 331.75,483.58 323.02,483.58" fill="#fff" stroke="none"/>
<path d="M328.5 480.7L331.5 483.6M324.9 480.7L327.8 483.6M323.0 482.5L324.1 483.6" stroke="#000" stroke-width="0.8" fill="none"/>
<polygon points="323.02,480.66 331.75,480.66 331.75,483.58 323.02,483.58" fill="none" stroke="#000" stroke-width="0.67"/>
<rect x="310.75" y="480.90" width="11.80" height="2.21" rx="1" fill="#fff" stroke="#000" stroke-width="0.90"/>
<line x1="304.15" y1="484.76" x2="329.15" y2="484.76" stroke="#000" stroke-width="1.34"/>
<circle cx="296.13" cy="479.48" r="2.1" fill="#000"/>
<circle cx="337.67" cy="479.48" r="2.1" fill="#000"/>
<circle cx="295.9" cy="495.52" r="2.1" fill="#000"/>
<circle cx="337.9" cy="495.52" r="2.1" fill="#000"/>
<path d="M300.52,515.8 C300.52,522 296,524 290,528 C279,535 272.5,545 272.5,557" fill="none" stroke="#000" stroke-width="0.90"/>
<path d="M333.28,515.8 C333.28,522 337.79999999999995,524 343.79999999999995,528 C354.79999999999995,535 361.29999999999995,545 361.29999999999995,557" fill="none" stroke="#000" stroke-width="0.90"/>
<circle cx="332.03" cy="168.93" r="1.7" fill="#000"/>
<circle cx="301.71" cy="168.93" r="1.4" fill="#000"/>
<circle cx="294.49" cy="235.01" r="1.3" fill="#000"/>
<circle cx="339.16" cy="235.42" r="1.3" fill="#000"/>
<polygon points="260.40,366.95 263.00,366.95 263.00,771.00 260.40,771.00" fill="#fff" stroke="none"/>
<path d="M260.4 368.9L262.7 366.9M260.4 371.6L263.0 369.4M260.4 374.3L263.0 372.1M260.4 377.0L263.0 374.8M260.4 379.7L263.0 377.5M260.4 382.4L263.0 380.2M260.4 385.1L263.0 382.9M260.4 387.8L263.0 385.6M260.4 390.5L263.0 388.3M260.4 393.2L263.0 391.0M260.4 395.9L263.0 393.7M260.4 398.6L263.0 396.4M260.4 401.3L263.0 399.1M260.4 404.0L263.0 401.8M260.4 406.7L263.0 404.5M260.4 409.4L263.0 407.2M260.4 412.1L263.0 409.9M260.4 414.8L263.0 412.6M260.4 417.5L263.0 415.3M260.4 420.2L263.0 418.0M260.4 422.9L263.0 420.7M260.4 425.6L263.0 423.4M260.4 428.3L263.0 426.1M260.4 431.0L263.0 428.8M260.4 433.7L263.0 431.5M260.4 436.4L263.0 434.2M260.4 439.1L263.0 436.9M260.4 441.8L263.0 439.7M260.4 444.5L263.0 442.4M260.4 447.2L263.0 445.1M260.4 449.9L263.0 447.8M260.4 452.6L263.0 450.5M260.4 455.3L263.0 453.2M260.4 458.0L263.0 455.9M260.4 460.7L263.0 458.6M260.4 463.5L263.0 461.3M260.4 466.2L263.0 464.0M260.4 468.9L263.0 466.7M260.4 471.6L263.0 469.4M260.4 474.3L263.0 472.1M260.4 477.0L263.0 474.8M260.4 479.7L263.0 477.5M260.4 482.4L263.0 480.2M260.4 485.1L263.0 482.9M260.4 487.8L263.0 485.6M260.4 490.5L263.0 488.3M260.4 493.2L263.0 491.0M260.4 495.9L263.0 493.7M260.4 498.6L263.0 496.4M260.4 501.3L263.0 499.1M260.4 504.0L263.0 501.8M260.4 506.7L263.0 504.5M260.4 509.4L263.0 507.2M260.4 512.1L263.0 509.9M260.4 514.8L263.0 512.6M260.4 517.5L263.0 515.3M260.4 520.2L263.0 518.0M260.4 522.9L263.0 520.7M260.4 525.6L263.0 523.4M260.4 528.3L263.0 526.1M260.4 531.0L263.0 528.8M260.4 533.7L263.0 531.5M260.4 536.4L263.0 534.2M260.4 539.1L263.0 536.9M260.4 541.8L263.0 539.6M260.4 544.5L263.0 542.3M260.4 547.2L263.0 545.0M260.4 549.9L263.0 547.7M260.4 552.6L263.0 550.4M260.4 555.3L263.0 553.1M260.4 558.0L263.0 555.8M260.4 560.7L263.0 558.5M260.4 563.4L263.0 561.3M260.4 566.1L263.0 564.0M260.4 568.8L263.0 566.7M260.4 571.5L263.0 569.4M260.4 574.2L263.0 572.1M260.4 576.9L263.0 574.8M260.4 579.6L263.0 577.5M260.4 582.3L263.0 580.2M260.4 585.0L263.0 582.9M260.4 587.8L263.0 585.6M260.4 590.5L263.0 588.3M260.4 593.2L263.0 591.0M260.4 595.9L263.0 593.7M260.4 598.6L263.0 596.4M260.4 601.3L263.0 599.1M260.4 604.0L263.0 601.8M260.4 606.7L263.0 604.5M260.4 609.4L263.0 607.2M260.4 612.1L263.0 609.9M260.4 614.8L263.0 612.6M260.4 617.5L263.0 615.3M260.4 620.2L263.0 618.0M260.4 622.9L263.0 620.7M260.4 625.6L263.0 623.4M260.4 628.3L263.0 626.1M260.4 631.0L263.0 628.8M260.4 633.7L263.0 631.5M260.4 636.4L263.0 634.2M260.4 639.1L263.0 636.9M260.4 641.8L263.0 639.6M260.4 644.5L263.0 642.3M260.4 647.2L263.0 645.0M260.4 649.9L263.0 647.7M260.4 652.6L263.0 650.4M260.4 655.3L263.0 653.1M260.4 658.0L263.0 655.8M260.4 660.7L263.0 658.5M260.4 663.4L263.0 661.2M260.4 666.1L263.0 663.9M260.4 668.8L263.0 666.6M260.4 671.5L263.0 669.3M260.4 674.2L263.0 672.0M260.4 676.9L263.0 674.7M260.4 679.6L263.0 677.4M260.4 682.3L263.0 680.1M260.4 685.0L263.0 682.8M260.4 687.7L263.0 685.6M260.4 690.4L263.0 688.3M260.4 693.1L263.0 691.0M260.4 695.8L263.0 693.7M260.4 698.5L263.0 696.4M260.4 701.2L263.0 699.1M260.4 703.9L263.0 701.8M260.4 706.6L263.0 704.5M260.4 709.4L263.0 707.2M260.4 712.1L263.0 709.9M260.4 714.8L263.0 712.6M260.4 717.5L263.0 715.3M260.4 720.2L263.0 718.0M260.4 722.9L263.0 720.7M260.4 725.6L263.0 723.4M260.4 728.3L263.0 726.1M260.4 731.0L263.0 728.8M260.4 733.7L263.0 731.5M260.4 736.4L263.0 734.2M260.4 739.1L263.0 736.9M260.4 741.8L263.0 739.6M260.4 744.5L263.0 742.3M260.4 747.2L263.0 745.0M260.4 749.9L263.0 747.7M260.4 752.6L263.0 750.4M260.4 755.3L263.0 753.1M260.4 758.0L263.0 755.8M260.4 760.7L263.0 758.5M260.4 763.4L263.0 761.2M260.4 766.1L263.0 763.9M260.4 768.8L263.0 766.6M261.0 771.0L263.0 769.3" stroke="#000" stroke-width="1.03" fill="none"/>
<polygon points="260.40,366.95 263.00,366.95 263.00,771.00 260.40,771.00" fill="none" stroke="#000" stroke-width="0.78"/>
<polygon points="370.90,366.95 373.50,366.95 373.50,771.00 370.90,771.00" fill="#fff" stroke="none"/>
<path d="M370.9 368.0L372.2 366.9M370.9 370.7L373.5 368.5M370.9 373.4L373.5 371.3M370.9 376.1L373.5 374.0M370.9 378.8L373.5 376.7M370.9 381.5L373.5 379.4M370.9 384.2L373.5 382.1M370.9 386.9L373.5 384.8M370.9 389.6L373.5 387.5M370.9 392.3L373.5 390.2M370.9 395.1L373.5 392.9M370.9 397.8L373.5 395.6M370.9 400.5L373.5 398.3M370.9 403.2L373.5 401.0M370.9 405.9L373.5 403.7M370.9 408.6L373.5 406.4M370.9 411.3L373.5 409.1M370.9 414.0L373.5 411.8M370.9 416.7L373.5 414.5M370.9 419.4L373.5 417.2M370.9 422.1L373.5 419.9M370.9 424.8L373.5 422.6M370.9 427.5L373.5 425.3M370.9 430.2L373.5 428.0M370.9 432.9L373.5 430.7M370.9 435.6L373.5 433.4M370.9 438.3L373.5 436.1M370.9 441.0L373.5 438.8M370.9 443.7L373.5 441.5M370.9 446.4L373.5 444.2M370.9 449.1L373.5 446.9M370.9 451.8L373.5 449.6M370.9 454.5L373.5 452.3M370.9 457.2L373.5 455.0M370.9 459.9L373.5 457.7M370.9 462.6L373.5 460.4M370.9 465.3L373.5 463.1M370.9 468.0L373.5 465.8M370.9 470.7L373.5 468.5M370.9 473.4L373.5 471.2M370.9 476.1L373.5 473.9M370.9 478.8L373.5 476.6M370.9 481.5L373.5 479.3M370.9 484.2L373.5 482.0M370.9 486.9L373.5 484.7M370.9 489.6L373.5 487.4M370.9 492.3L373.5 490.1M370.9 495.0L373.5 492.8M370.9 497.7L373.5 495.6M370.9 500.4L373.5 498.3M370.9 503.1L373.5 501.0M370.9 505.8L373.5 503.7M370.9 508.5L373.5 506.4M370.9 511.2L373.5 509.1M370.9 513.9L373.5 511.8M370.9 516.6L373.5 514.5M370.9 519.4L373.5 517.2M370.9 522.1L373.5 519.9M370.9 524.8L373.5 522.6M370.9 527.5L373.5 525.3M370.9 530.2L373.5 528.0M370.9 532.9L373.5 530.7M370.9 535.6L373.5 533.4M370.9 538.3L373.5 536.1M370.9 541.0L373.5 538.8M370.9 543.7L373.5 541.5M370.9 546.4L373.5 544.2M370.9 549.1L373.5 546.9M370.9 551.8L373.5 549.6M370.9 554.5L373.5 552.3M370.9 557.2L373.5 555.0M370.9 559.9L373.5 557.7M370.9 562.6L373.5 560.4M370.9 565.3L373.5 563.1M370.9 568.0L373.5 565.8M370.9 570.7L373.5 568.5M370.9 573.4L373.5 571.2M370.9 576.1L373.5 573.9M370.9 578.8L373.5 576.6M370.9 581.5L373.5 579.3M370.9 584.2L373.5 582.0M370.9 586.9L373.5 584.7M370.9 589.6L373.5 587.4M370.9 592.3L373.5 590.1M370.9 595.0L373.5 592.8M370.9 597.7L373.5 595.5M370.9 600.4L373.5 598.2M370.9 603.1L373.5 600.9M370.9 605.8L373.5 603.6M370.9 608.5L373.5 606.3M370.9 611.2L373.5 609.0M370.9 613.9L373.5 611.7M370.9 616.6L373.5 614.4M370.9 619.3L373.5 617.2M370.9 622.0L373.5 619.9M370.9 624.7L373.5 622.6M370.9 627.4L373.5 625.3M370.9 630.1L373.5 628.0M370.9 632.8L373.5 630.7M370.9 635.5L373.5 633.4M370.9 638.2L373.5 636.1M370.9 640.9L373.5 638.8M370.9 643.7L373.5 641.5M370.9 646.4L373.5 644.2M370.9 649.1L373.5 646.9M370.9 651.8L373.5 649.6M370.9 654.5L373.5 652.3M370.9 657.2L373.5 655.0M370.9 659.9L373.5 657.7M370.9 662.6L373.5 660.4M370.9 665.3L373.5 663.1M370.9 668.0L373.5 665.8M370.9 670.7L373.5 668.5M370.9 673.4L373.5 671.2M370.9 676.1L373.5 673.9M370.9 678.8L373.5 676.6M370.9 681.5L373.5 679.3M370.9 684.2L373.5 682.0M370.9 686.9L373.5 684.7M370.9 689.6L373.5 687.4M370.9 692.3L373.5 690.1M370.9 695.0L373.5 692.8M370.9 697.7L373.5 695.5M370.9 700.4L373.5 698.2M370.9 703.1L373.5 700.9M370.9 705.8L373.5 703.6M370.9 708.5L373.5 706.3M370.9 711.2L373.5 709.0M370.9 713.9L373.5 711.7M370.9 716.6L373.5 714.4M370.9 719.3L373.5 717.1M370.9 722.0L373.5 719.8M370.9 724.7L373.5 722.5M370.9 727.4L373.5 725.2M370.9 730.1L373.5 727.9M370.9 732.8L373.5 730.6M370.9 735.5L373.5 733.3M370.9 738.2L373.5 736.0M370.9 740.9L373.5 738.7M370.9 743.6L373.5 741.5M370.9 746.3L373.5 744.2M370.9 749.0L373.5 746.9M370.9 751.7L373.5 749.6M370.9 754.4L373.5 752.3M370.9 757.1L373.5 755.0M370.9 759.8L373.5 757.7M370.9 762.5L373.5 760.4M370.9 765.3L373.5 763.1M370.9 768.0L373.5 765.8M370.9 770.7L373.5 768.5" stroke="#000" stroke-width="1.03" fill="none"/>
<polygon points="370.90,366.95 373.50,366.95 373.50,771.00 370.90,771.00" fill="none" stroke="#000" stroke-width="0.78"/>
<path d="M259.9,451 C263.9,459 263.9,471 261.9,477 L259.9,483 L263.79999999999995,483 L263.79999999999995,451 Z" fill="#fff" stroke="none"/>
<path d="M260.4,451 C264.0,459 264.0,471 262.0,477 L260.4,483" fill="none" stroke="#222" stroke-width="0.7"/>
<path d="M263.0,451 C265.59999999999997,459 265.59999999999997,471 264.0,477 L263.0,483" fill="none" stroke="#222" stroke-width="0.7"/>
<line x1="272.50" y1="557.00" x2="272.50" y2="730.00" stroke="#000" stroke-width="0.90"/>
<line x1="361.30" y1="557.00" x2="361.30" y2="730.00" stroke="#000" stroke-width="0.90"/>
<path d="M272.5,730 A44.40,38 0 0 0 361.29999999999995,730" fill="none" stroke="#000" stroke-width="0.90"/>
</g>
<g transform="translate(844.9,151.5) scale(0.942) translate(-283,-84.8)">
<polygon points="333.23,161.42 479.09,161.53 480.63,163.17 480.63,233.36 474.97,233.36 474.97,216.89 473.94,211.75 469.62,211.23 469.62,202.69 471.37,201.46 471.37,174.70 467.77,174.70 467.77,169.04 337.43,168.33 336.53,172.83 334.13,172.83 333.23,170.43" fill="#fff" stroke="none"/>
<path d="M474.9 161.5L480.6 167.4M470.0 161.5L480.6 172.5M465.1 161.5L480.6 177.6M460.1 161.5L467.4 169.0M467.8 169.4L480.6 182.8M455.2 161.5L462.4 169.0M467.8 174.5L467.9 174.7M471.4 178.3L480.6 187.9M450.2 161.5L457.5 169.0M471.4 183.4L480.6 193.0M445.3 161.5L452.5 169.0M471.4 188.5L480.6 198.1M440.4 161.5L447.5 168.9M471.4 193.6L480.6 203.2M435.4 161.5L442.6 168.9M471.4 198.7L480.6 208.3M430.5 161.5L437.6 168.9M470.0 202.4L480.6 213.4M425.6 161.5L432.7 168.8M469.6 207.1L480.6 218.5M420.6 161.5L427.7 168.8M475.0 217.8L480.6 223.6M415.7 161.5L422.7 168.8M475.0 222.9L480.6 228.7M410.7 161.5L417.8 168.8M475.0 228.0L480.2 233.4M405.8 161.5L412.8 168.7M475.0 233.1L475.2 233.4M400.9 161.5L407.9 168.7M395.9 161.5L402.9 168.7M391.0 161.5L397.9 168.7M386.0 161.5L393.0 168.6M381.1 161.5L388.0 168.6M376.2 161.5L383.0 168.6M371.2 161.4L378.1 168.6M366.3 161.4L373.1 168.5M361.3 161.4L368.2 168.5M356.4 161.4L363.2 168.5M351.5 161.4L358.2 168.4M346.5 161.4L353.3 168.4M341.6 161.4L348.3 168.4M336.7 161.4L343.4 168.4M333.2 163.0L338.4 168.3M333.2 168.1L336.7 171.7" stroke="#000" stroke-width="0.99" fill="none"/>
<polygon points="333.23,161.42 479.09,161.53 480.63,163.17 480.63,233.36 474.97,233.36 474.97,216.89 473.94,211.75 469.62,211.23 469.62,202.69 471.37,201.46 471.37,174.70 467.77,174.70 467.77,169.04 337.43,168.33 336.53,172.83 334.13,172.83 333.23,170.43" fill="none" stroke="#000" stroke-width="1.01"/>
<line x1="333.23" y1="180.40" x2="467.77" y2="180.36" stroke="#000" stroke-width="0.90"/>
<line x1="467.77" y1="174.70" x2="467.77" y2="180.36" stroke="#000" stroke-width="0.90"/>
<rect x="471.68" y="174.49" width="4.11" height="5.15" rx="0" fill="#fff" stroke="#000" stroke-width="0.78"/>
<polygon points="283.70,163.83 286.10,161.42 300.21,161.42 300.21,172.83 297.21,172.83 297.21,169.83 294.21,169.83 294.21,180.03 292.11,180.03 292.13,228.21 296.24,228.21 296.24,232.33 285.44,232.33 283.89,230.79" fill="#fff" stroke="none"/>
<path d="M297.2 161.4L300.2 164.6M292.2 161.4L300.2 169.7M287.3 161.4L295.4 169.8M297.2 171.7L298.3 172.8M284.2 163.3L294.2 173.7M283.7 167.9L294.2 178.8M283.7 173.0L292.1 181.7M283.7 178.2L292.1 186.8M283.8 183.3L292.1 192.0M283.8 188.4L292.1 197.1M283.8 193.5L292.1 202.2M283.8 198.7L292.1 207.3M283.8 203.8L292.1 212.4M283.8 208.9L292.1 217.5M283.8 214.1L292.1 222.6M283.9 219.2L292.1 227.7M292.6 228.2L296.2 232.0M283.9 224.3L291.6 232.3M283.9 229.4L286.7 232.3" stroke="#000" stroke-width="0.99" fill="none"/>
<polygon points="283.70,163.83 286.10,161.42 300.21,161.42 300.21,172.83 297.21,172.83 297.21,169.83 294.21,169.83 294.21,180.03 292.11,180.03 292.13,228.21 296.24,228.21 296.24,232.33 285.44,232.33 283.89,230.79" fill="none" stroke="#000" stroke-width="1.01"/>
<polygon points="287.91,174.03 292.11,174.03 292.11,177.93 289.11,177.93 287.91,176.43" fill="#fff" stroke="#000" stroke-width="0.78"/>
<line x1="294.21" y1="180.03" x2="300.21" y2="180.03" stroke="#000" stroke-width="0.90"/>
<polygon points="337.41,228.21 439.22,228.48 439.22,207.84 443.46,205.61 446.25,201.71 449.93,201.71 449.93,210.63 445.46,212.30 445.46,234.05 337.41,233.87" fill="#fff" stroke="none"/>
<path d="M447.6 201.7L449.9 204.1M444.5 204.1L449.9 209.7M441.5 206.6L446.6 211.9M439.2 209.9L445.5 216.3M439.2 215.5L445.5 222.0M439.2 221.1L445.5 227.6M439.2 226.7L445.5 233.2M435.5 228.5L440.9 234.0M430.1 228.5L435.4 234.0M424.6 228.4L430.0 234.0M419.2 228.4L424.6 234.0M413.7 228.4L419.2 234.0M408.3 228.4L413.7 234.0M402.9 228.4L408.3 234.0M397.4 228.4L402.9 234.0M392.0 228.4L397.4 234.0M386.6 228.3L392.0 234.0M381.1 228.3L386.6 234.0M375.7 228.3L381.1 233.9M370.3 228.3L375.7 233.9M364.8 228.3L370.3 233.9M359.4 228.3L364.8 233.9M354.0 228.3L359.4 233.9M348.5 228.2L354.0 233.9M343.1 228.2L348.6 233.9M337.7 228.2L343.1 233.9M337.4 233.6L337.7 233.9" stroke="#000" stroke-width="0.99" fill="none"/>
<polygon points="337.41,228.21 439.22,228.48 439.22,207.84 443.46,205.61 446.25,201.71 449.93,201.71 449.93,210.63 445.46,212.30 445.46,234.05 337.41,233.87" fill="none" stroke="#000" stroke-width="1.01"/>
<rect x="450.15" y="202.27" width="18.73" height="8.92" rx="0" fill="#fff" stroke="#000" stroke-width="0.90"/>
<line x1="446.25" y1="201.71" x2="470.78" y2="201.71" stroke="#000" stroke-width="1.01"/>
<rect x="445.46" y="212.30" width="28.67" height="4.47" rx="0" fill="#fff" stroke="#000" stroke-width="0.78"/>
<line x1="448.48" y1="212.86" x2="448.48" y2="216.54" stroke="#000" stroke-width="0.78"/>
<line x1="455.72" y1="212.86" x2="455.72" y2="216.54" stroke="#000" stroke-width="0.78"/>
<line x1="463.53" y1="212.86" x2="463.53" y2="216.54" stroke="#000" stroke-width="0.78"/>
<line x1="470.78" y1="212.86" x2="470.78" y2="216.54" stroke="#000" stroke-width="0.78"/>
<line x1="462.97" y1="212.86" x2="462.97" y2="216.54" stroke="#000" stroke-width="0.78"/>
<rect x="445.46" y="217.55" width="28.33" height="16.50" rx="0" fill="#fff" stroke="#000" stroke-width="1.01"/>
<rect x="438.44" y="234.27" width="42.38" height="2.01" rx="0" fill="#fff" stroke="#000" stroke-width="0.90"/>
<rect x="441.78" y="236.28" width="36.25" height="26.21" rx="0" fill="#fff" stroke="#000" stroke-width="1.01"/>
<line x1="458.51" y1="236.28" x2="458.51" y2="254.13" stroke="#000" stroke-width="0.90"/>
<line x1="461.86" y1="236.28" x2="461.86" y2="254.13" stroke="#000" stroke-width="0.90"/>
<path d="M441.78,254.68 Q450.15,249.11 458.51,254.13 L460.19,258.25 L461.86,254.13 Q470.22,249.11 478.03,254.68" fill="none" stroke="#000" stroke-width="0.90"/>
<rect x="443.46" y="262.49" width="32.90" height="6.69" rx="0" fill="#fff" stroke="#000" stroke-width="0.90"/>
<line x1="445.46" y1="263.05" x2="445.46" y2="268.96" stroke="#777" stroke-width="1.79"/>
<line x1="474.46" y1="263.05" x2="474.46" y2="268.96" stroke="#777" stroke-width="1.79"/>
<rect x="441.23" y="269.18" width="37.36" height="10.04" rx="0.8" fill="#fff" stroke="#000" stroke-width="1.01"/>
<line x1="449.59" y1="269.40" x2="449.59" y2="279.00" stroke="#000" stroke-width="0.78"/>
<line x1="451.82" y1="269.40" x2="451.82" y2="279.00" stroke="#000" stroke-width="0.78"/>
<line x1="467.43" y1="269.40" x2="467.43" y2="279.00" stroke="#000" stroke-width="0.78"/>
<line x1="469.67" y1="269.40" x2="469.67" y2="279.00" stroke="#000" stroke-width="0.78"/>
<line x1="451.26" y1="279.22" x2="451.26" y2="307.10" stroke="#000" stroke-width="0.90"/>
<line x1="467.99" y1="279.22" x2="467.99" y2="307.10" stroke="#000" stroke-width="0.90"/>
<line x1="445.13" y1="307.10" x2="473.57" y2="307.10" stroke="#000" stroke-width="0.90"/>
<rect x="329.69" y="196.31" width="25.21" height="9.78" rx="0" fill="#fff" stroke="#000" stroke-width="0.90"/>
<line x1="338.95" y1="196.31" x2="338.95" y2="206.09" stroke="#000" stroke-width="0.90"/>
<polygon points="354.90,196.52 410.65,196.83 410.65,217.41 354.90,217.41" fill="#fff" stroke="#000" stroke-width="0.90"/>
<line x1="329.69" y1="195.08" x2="401.90" y2="195.08" stroke="#000" stroke-width="0.90"/>
<rect x="357.48" y="191.16" width="6.17" height="4.12" rx="1.2" fill="#fff" stroke="#000" stroke-width="0.90"/>
<rect x="401.39" y="191.16" width="6.17" height="4.12" rx="1.2" fill="#fff" stroke="#000" stroke-width="0.90"/>
<polygon points="350.79,217.41 370.34,217.41 370.34,225.64 368.28,228.21 353.36,228.21 350.79,225.64" fill="#fff" stroke="none"/>
<path d="M365.2 217.4L370.3 222.8M359.8 217.4L369.1 227.1M354.3 217.4L364.8 228.2M350.8 219.4L359.3 228.2M350.8 225.0L353.9 228.2" stroke="#000" stroke-width="0.99" fill="none"/>
<polygon points="350.79,217.41 370.34,217.41 370.34,225.64 368.28,228.21 353.36,228.21 350.79,225.64" fill="none" stroke="#000" stroke-width="1.01"/>
<polygon points="395.73,217.41 414.77,217.41 414.77,228.21 398.30,228.21 395.73,225.64" fill="#fff" stroke="none"/>
<path d="M414.0 217.4L414.8 218.2M408.5 217.4L414.8 223.9M403.1 217.4L413.6 228.2M397.7 217.4L408.1 228.2M395.7 221.0L402.7 228.2" stroke="#000" stroke-width="0.99" fill="none"/>
<polygon points="395.73,217.41 414.77,217.41 414.77,228.21 398.30,228.21 395.73,225.64" fill="none" stroke="#000" stroke-width="1.01"/>
<rect x="356.96" y="218.44" width="6.18" height="9.77" rx="0" fill="#fff" stroke="#555" stroke-width="0.56"/>
<rect x="401.90" y="218.44" width="6.18" height="9.77" rx="0" fill="#fff" stroke="#555" stroke-width="0.56"/>
<line x1="356.96" y1="221.01" x2="363.14" y2="221.01" stroke="#555" stroke-width="0.56"/>
<line x1="401.90" y1="221.01" x2="408.08" y2="221.01" stroke="#555" stroke-width="0.56"/>
<line x1="356.96" y1="223.58" x2="363.14" y2="223.58" stroke="#555" stroke-width="0.56"/>
<line x1="401.90" y1="223.58" x2="408.08" y2="223.58" stroke="#555" stroke-width="0.56"/>
<line x1="356.96" y1="226.16" x2="363.14" y2="226.16" stroke="#555" stroke-width="0.56"/>
<line x1="401.90" y1="226.16" x2="408.08" y2="226.16" stroke="#555" stroke-width="0.56"/>
<line x1="370.34" y1="217.41" x2="395.73" y2="217.41" stroke="#000" stroke-width="0.90"/>
<line x1="370.34" y1="219.47" x2="395.73" y2="219.47" stroke="#000" stroke-width="0.67"/>
<line x1="360.05" y1="185.50" x2="360.05" y2="239.53" stroke="#444" stroke-width="0.67"/>
<line x1="404.99" y1="183.96" x2="404.99" y2="239.53" stroke="#444" stroke-width="0.67"/>
<polygon points="289.55,259.09 289.55,236.45 291.10,234.39 296.24,234.39 296.24,228.21 294.18,228.21 294.18,216.38 304.48,216.38 305.50,217.92 305.50,226.67 306.53,226.67 306.67,289.69 297.41,289.69 297.41,260.87 289.69,259.33" fill="#fff" stroke="none"/>
<path d="M294.2 220.5L298.6 216.4M295.0 228.2L305.5 218.4M289.6 241.8L305.7 226.7M289.6 250.3L306.5 234.4M289.6 258.7L306.6 242.9M296.5 260.7L306.6 251.3M297.4 268.4L306.6 259.8M297.4 276.8L306.6 268.2M297.4 285.3L306.6 276.7M301.8 289.7L306.7 285.2" stroke="#000" stroke-width="1.03" fill="none"/>
<polygon points="289.55,259.09 289.55,236.45 291.10,234.39 296.24,234.39 296.24,228.21 294.18,228.21 294.18,216.38 304.48,216.38 305.50,217.92 305.50,226.67 306.53,226.67 306.67,289.69 297.41,289.69 297.41,260.87 289.69,259.33" fill="none" stroke="#000" stroke-width="1.01"/>
<polygon points="344.25,259.09 344.25,236.45 342.70,234.39 337.56,234.39 337.56,228.21 339.62,228.21 339.62,216.38 329.32,216.38 328.30,217.92 328.30,226.67 327.27,226.67 327.13,289.69 336.39,289.69 336.39,260.87 344.11,259.33" fill="#fff" stroke="none"/>
<path d="M328.3 222.6L335.0 216.4M327.3 232.0L339.6 220.5M327.2 240.5L337.6 230.9M327.2 249.0L342.8 234.5M327.2 257.5L344.2 241.6M327.2 266.0L344.2 250.1M327.2 274.5L336.4 265.9M343.3 259.5L344.2 258.6M327.1 283.0L336.4 274.4M329.1 289.7L336.4 282.9" stroke="#000" stroke-width="1.03" fill="none"/>
<polygon points="344.25,259.09 344.25,236.45 342.70,234.39 337.56,234.39 337.56,228.21 339.62,228.21 339.62,216.38 329.32,216.38 328.30,217.92 328.30,226.67 327.27,226.67 327.13,289.69 336.39,289.69 336.39,260.87 344.11,259.33" fill="none" stroke="#000" stroke-width="1.01"/>
<polyline points="289.55,233.87 286.98,233.87 287.12,257.79 289.69,257.79" fill="none" stroke="#000" stroke-width="0.90"/>
<polyline points="344.25,233.87 346.82,233.87 346.68,257.79 344.11,257.79" fill="none" stroke="#000" stroke-width="0.90"/>
<circle cx="294.49" cy="235.01" r="1.3" fill="#111"/>
<circle cx="339.16" cy="235.42" r="1.3" fill="#111"/>
<polyline points="328.15,191.16 329.69,192.19 329.69,213.81 331.75,216.07" fill="none" stroke="#000" stroke-width="0.90"/>
<polygon points="306.53,226.67 312.19,226.67 312.19,247.77 306.53,247.77" fill="#fff" stroke="none"/>
<path d="M311.6 226.7L312.2 227.3M307.6 226.7L312.2 231.8M306.5 230.0L312.2 236.3M306.5 234.5L312.2 240.8M306.5 239.0L312.2 245.3M306.5 243.5L310.4 247.8" stroke="#000" stroke-width="0.89" fill="none"/>
<polygon points="306.53,226.67 312.19,226.67 312.19,247.77 306.53,247.77" fill="none" stroke="#000" stroke-width="1.01"/>
<polygon points="327.27,226.67 321.61,226.67 321.61,247.77 327.27,247.77" fill="#fff" stroke="none"/>
<path d="M323.7 226.7L327.3 230.6M321.6 228.8L327.3 235.1M321.6 233.3L327.3 239.6M321.6 237.8L327.3 244.1M321.6 242.3L326.6 247.8M321.6 246.8L322.5 247.8" stroke="#000" stroke-width="0.89" fill="none"/>
<polygon points="327.27,226.67 321.61,226.67 321.61,247.77 327.27,247.77" fill="none" stroke="#000" stroke-width="1.01"/>
<rect x="305.50" y="189.62" width="22.65" height="37.05" rx="0" fill="#fff" stroke="#000" stroke-width="1.01"/>
<rect x="311.16" y="189.62" width="10.30" height="5.15" rx="0" fill="#fff" stroke="#000" stroke-width="0.78"/>
<rect x="312.71" y="221.01" width="8.23" height="5.66" rx="0" fill="#fff" stroke="#000" stroke-width="0.78"/>
<line x1="310.65" y1="189.72" x2="321.97" y2="189.72" stroke="#000" stroke-width="1.79"/>
<line x1="310.65" y1="226.77" x2="323.00" y2="226.77" stroke="#000" stroke-width="1.79"/>
<rect x="298.30" y="196.83" width="6.18" height="16.98" rx="0" fill="#fff" stroke="#000" stroke-width="0.90"/>
<line x1="299.84" y1="196.83" x2="299.84" y2="213.81" stroke="#666" stroke-width="0.56"/>
<rect x="312.19" y="226.98" width="9.27" height="20.79" rx="0" fill="#fff" stroke="#000" stroke-width="0.90"/>
<polygon points="300.21,145.81 301.71,144.01 305.02,144.01 305.02,159.32 307.42,159.32 307.42,166.83 308.62,166.83 308.59,189.62 305.50,189.62 304.42,187.84 300.21,184.84" fill="#fff" stroke="none"/>
<path d="M300.2 147.7L304.6 144.0M300.2 155.8L305.0 151.7M300.2 163.9L305.6 159.3M300.2 172.0L307.4 165.9M300.2 180.0L308.6 173.0M302.3 186.4L308.6 181.1M308.1 189.6L308.6 189.2" stroke="#000" stroke-width="0.99" fill="none"/>
<polygon points="300.21,145.81 301.71,144.01 305.02,144.01 305.02,159.32 307.42,159.32 307.42,166.83 308.62,166.83 308.59,189.62 305.50,189.62 304.42,187.84 300.21,184.84" fill="none" stroke="#000" stroke-width="1.01"/>
<polygon points="333.59,145.81 332.09,144.01 328.78,144.01 328.78,159.32 326.38,159.32 326.38,166.83 325.18,166.83 325.21,189.62 328.30,189.62 329.38,187.84 333.59,184.84" fill="#fff" stroke="none"/>
<path d="M328.8 148.0L332.7 144.7M328.8 156.1L333.6 152.0M325.2 167.2L325.6 166.8M326.4 166.2L333.6 160.1M325.2 175.3L333.6 168.2M325.2 183.4L333.6 176.3M327.4 189.6L329.3 188.0M330.2 187.3L333.6 184.4" stroke="#000" stroke-width="0.99" fill="none"/>
<polygon points="333.59,145.81 332.09,144.01 328.78,144.01 328.78,159.32 326.38,159.32 326.38,166.83 325.18,166.83 325.21,189.62 328.30,189.62 329.38,187.84 333.59,184.84" fill="none" stroke="#000" stroke-width="1.01"/>
<polygon points="307.42,160.10 311.62,160.10 311.62,166.95 307.42,166.95" fill="#383838" stroke="#000" stroke-width="0.67"/>
<polygon points="326.38,160.10 322.18,160.10 322.18,166.95 326.38,166.95" fill="#383838" stroke="#000" stroke-width="0.67"/>
<polygon points="302.31,131.11 331.43,131.11 332.63,132.31 332.63,140.41 331.43,141.61 302.31,141.61 301.11,140.41 301.11,132.31" fill="#fff" stroke="none"/>
<path d="M328.4 131.1L332.6 135.7M324.2 131.1L332.6 140.2M319.9 131.1L329.7 141.6M315.7 131.1L325.5 141.6M311.4 131.1L321.2 141.6M307.2 131.1L317.0 141.6M303.0 131.1L312.7 141.6M301.1 133.7L308.5 141.6M301.1 138.2L304.3 141.6" stroke="#000" stroke-width="0.99" fill="none"/>
<polygon points="302.31,131.11 331.43,131.11 332.63,132.31 332.63,140.41 331.43,141.61 302.31,141.61 301.11,140.41 301.11,132.31" fill="none" stroke="#000" stroke-width="1.01"/>
<polygon points="305.32,141.61 311.32,141.61 311.32,159.62 305.32,159.62" fill="#fff" stroke="none"/>
<path d="M308.5 141.6L311.3 144.6M305.3 142.7L311.3 149.2M305.3 147.3L311.3 153.7M305.3 151.8L311.3 158.3M305.3 156.4L308.4 159.6" stroke="#000" stroke-width="0.99" fill="none"/>
<polygon points="305.32,141.61 311.32,141.61 311.32,159.62 305.32,159.62" fill="none" stroke="#000" stroke-width="1.01"/>
<polygon points="328.48,141.61 322.48,141.61 322.48,159.62 328.48,159.62" fill="#fff" stroke="none"/>
<path d="M325.5 141.6L328.5 144.8M322.5 143.0L328.5 149.4M322.5 147.5L328.5 153.9M322.5 152.0L328.5 158.5M322.5 156.6L325.3 159.6" stroke="#000" stroke-width="0.99" fill="none"/>
<polygon points="328.48,141.61 322.48,141.61 322.48,159.62 328.48,159.62" fill="none" stroke="#000" stroke-width="1.01"/>
<rect x="311.32" y="105.2" width="10.81" height="84.42" fill="#fff"/>
<line x1="311.32" y1="105.20" x2="311.32" y2="189.62" stroke="#000" stroke-width="1.01"/>
<line x1="322.13" y1="105.20" x2="322.13" y2="189.62" stroke="#000" stroke-width="1.01"/>
<line x1="312.72" y1="132.20" x2="312.72" y2="189.62" stroke="#555" stroke-width="0.56"/>
<polygon points="302.42,88.52 303.14,85.64 304.48,84.72 306.23,84.72 309.62,87.70 314.05,90.27 310.65,92.13 302.73,92.13" fill="#fff" stroke="none"/>
<path d="M306.8 85.2L312.4 91.2M303.1 85.8L309.0 92.1M302.5 89.7L304.8 92.1" stroke="#000" stroke-width="0.99" fill="none"/>
<polygon points="302.42,88.52 303.14,85.64 304.48,84.72 306.23,84.72 309.62,87.70 314.05,90.27 310.65,92.13 302.73,92.13" fill="none" stroke="#000" stroke-width="1.01"/>
<polygon points="331.64,88.52 330.92,85.64 329.58,84.72 327.83,84.72 324.44,87.70 320.01,90.27 323.41,92.13 331.33,92.13" fill="#fff" stroke="none"/>
<path d="M327.7 84.9L331.6 89.1M325.3 86.9L330.2 92.1M322.7 88.7L326.0 92.1" stroke="#000" stroke-width="0.99" fill="none"/>
<polygon points="331.64,88.52 330.92,85.64 329.58,84.72 327.83,84.72 324.44,87.70 320.01,90.27 323.41,92.13 331.33,92.13" fill="none" stroke="#000" stroke-width="1.01"/>
<polygon points="310.65,92.13 314.05,90.27 317.03,91.10 320.02,90.27 323.51,92.13 323.82,103.96 322.79,105.20 311.16,105.20 310.14,103.96" fill="#fff" stroke="none"/>
<path d="M320.0 90.3L323.6 94.1M316.3 90.9L323.7 98.8M312.4 91.2L323.8 103.5M310.6 93.8L321.2 105.2M310.4 98.2L316.9 105.2M310.2 102.5L312.7 105.2" stroke="#000" stroke-width="0.99" fill="none"/>
<polygon points="310.65,92.13 314.05,90.27 317.03,91.10 320.02,90.27 323.51,92.13 323.82,103.96 322.79,105.20 311.16,105.20 310.14,103.96" fill="none" stroke="#000" stroke-width="1.01"/>
<rect x="314.46" y="92.85" width="5.14" height="11.32" rx="0" fill="#fff" stroke="#000" stroke-width="0.78"/>
<rect x="315.28" y="92.85" width="3.50" height="11.32" rx="0" fill="#ddd" stroke="#555" stroke-width="0.56"/>
<polygon points="290.00,259.50 289.90,278.50 288.90,279.50 288.90,303.50 286.50,306.40 256.50,306.40 254.50,308.40 254.50,311.50 257.30,312.60 257.20,347.70 260.60,352.50 260.60,354.20 275.60,354.20 275.80,317.50 278.30,314.90 290.50,314.90 292.60,317.50 292.60,330.00 294.50,335.00 297.50,338.00 301.00,339.10 306.70,339.10 306.70,330.30 302.00,330.30 299.00,327.50 299.00,291.70 296.40,291.70 296.40,260.50" fill="#fff" stroke="none"/>
<path d="M290.0 262.1L292.8 259.9M290.0 266.0L296.4 260.9M289.9 269.8L296.4 264.8M289.9 273.6L296.4 268.6M289.9 277.4L296.4 272.4M254.5 308.9L257.7 306.4M288.9 282.0L296.4 276.2M255.5 311.9L262.6 306.4M288.9 285.8L296.4 280.0M257.3 314.3L267.5 306.4M288.9 289.6L296.4 283.8M257.3 318.2L272.3 306.4M288.9 293.5L296.4 287.6M257.3 322.0L277.2 306.4M288.9 297.3L296.4 291.4M257.3 325.8L282.1 306.4M288.9 301.1L299.0 293.2M257.3 329.6L299.0 297.0M257.2 333.4L275.8 318.9M280.9 314.9L299.0 300.8M257.2 337.2L275.8 322.7M285.8 314.9L299.0 304.6M257.2 341.0L275.8 326.6M290.6 315.0L299.0 308.4M257.2 344.9L275.7 330.4M292.5 317.3L299.0 312.2M257.6 348.3L275.7 334.2M292.6 321.0L299.0 316.0M259.4 350.8L275.7 338.0M292.6 324.8L299.0 319.8M260.6 353.6L275.7 341.9M292.6 328.6L299.0 323.6M264.8 354.2L275.6 345.7M293.3 331.9L299.0 327.4M269.6 354.2L275.6 349.5M294.4 334.8L301.2 329.5M274.5 354.2L275.6 353.3M296.5 337.0L305.1 330.3M299.4 338.6L306.7 332.8M303.6 339.1L306.7 336.7" stroke="#000" stroke-width="0.94" fill="none"/>
<polygon points="290.00,259.50 289.90,278.50 288.90,279.50 288.90,303.50 286.50,306.40 256.50,306.40 254.50,308.40 254.50,311.50 257.30,312.60 257.20,347.70 260.60,352.50 260.60,354.20 275.60,354.20 275.80,317.50 278.30,314.90 290.50,314.90 292.60,317.50 292.60,330.00 294.50,335.00 297.50,338.00 301.00,339.10 306.70,339.10 306.70,330.30 302.00,330.30 299.00,327.50 299.00,291.70 296.40,291.70 296.40,260.50" fill="none" stroke="#000" stroke-width="1.01"/>
<polygon points="343.80,259.50 343.90,278.50 344.90,279.50 344.90,303.50 347.30,306.40 377.30,306.40 379.30,308.40 379.30,311.50 376.50,312.60 376.60,347.70 373.20,352.50 373.20,354.20 358.20,354.20 358.00,317.50 355.50,314.90 343.30,314.90 341.20,317.50 341.20,330.00 339.30,335.00 336.30,338.00 332.80,339.10 327.10,339.10 327.10,330.30 331.80,330.30 334.80,327.50 334.80,291.70 337.40,291.70 337.40,260.50" fill="#fff" stroke="none"/>
<path d="M337.4 263.2L341.7 259.8M337.4 267.0L343.8 262.0M337.4 270.8L343.8 265.8M337.4 274.6L343.9 269.6M337.4 278.4L343.9 273.3M337.4 282.2L343.9 277.1M337.4 286.0L344.9 280.2M334.8 291.9L335.0 291.7M337.4 289.8L344.9 284.0M334.8 295.7L344.9 287.8M334.8 299.5L344.9 291.6M334.8 303.3L344.9 295.4M334.8 307.1L344.9 299.2M334.8 310.9L344.9 303.0M334.8 314.7L346.6 305.5M334.8 318.5L350.3 306.4M334.8 322.3L341.6 317.0M344.3 314.9L355.2 306.4M327.1 332.1L329.5 330.3M334.8 326.1L341.2 321.1M349.2 314.9L360.0 306.4M327.1 335.9L341.2 324.9M354.0 314.9L364.9 306.4M327.9 339.1L341.2 328.7M357.0 316.4L369.8 306.4M332.8 339.1L339.8 333.6M358.0 319.4L374.7 306.4M358.0 323.2L378.3 307.4M358.1 327.0L379.3 310.4M358.1 330.8L376.5 316.4M358.1 334.6L376.5 320.2M358.1 338.4L376.5 324.0M358.1 342.2L376.5 327.8M358.2 345.9L376.6 331.6M358.2 349.7L376.6 335.4M358.2 353.5L376.6 339.2M362.2 354.2L376.6 343.0M367.1 354.2L376.6 346.8M372.0 354.2L373.2 353.2" stroke="#000" stroke-width="0.94" fill="none"/>
<polygon points="343.80,259.50 343.90,278.50 344.90,279.50 344.90,303.50 347.30,306.40 377.30,306.40 379.30,308.40 379.30,311.50 376.50,312.60 376.60,347.70 373.20,352.50 373.20,354.20 358.20,354.20 358.00,317.50 355.50,314.90 343.30,314.90 341.20,317.50 341.20,330.00 339.30,335.00 336.30,338.00 332.80,339.10 327.10,339.10 327.10,330.30 331.80,330.30 334.80,327.50 334.80,291.70 337.40,291.70 337.40,260.50" fill="none" stroke="#000" stroke-width="1.01"/>
<polyline points="260.90,312.80 260.90,352.00" fill="none" stroke="#000" stroke-width="0.67"/>
<polyline points="372.90,312.80 372.90,352.00" fill="none" stroke="#000" stroke-width="0.67"/>
<polyline points="276.90,318.00 276.90,352.00" fill="none" stroke="#000" stroke-width="0.56"/>
<polyline points="356.90,318.00 356.90,352.00" fill="none" stroke="#000" stroke-width="0.56"/>
<polygon points="295.86,263.45 301.01,263.45 301.01,270.65 295.86,270.65" fill="#383838" stroke="#000" stroke-width="0.67"/>
<polygon points="337.94,263.45 332.79,263.45 332.79,270.65 337.94,270.65" fill="#383838" stroke="#000" stroke-width="0.67"/>
<polygon points="297.41,289.69 307.70,289.69 307.70,292.98 297.41,292.98" fill="#fff" stroke="#000" stroke-width="0.78"/>
<polygon points="336.39,289.69 326.10,289.69 326.10,292.98 336.39,292.98" fill="#fff" stroke="#000" stroke-width="0.78"/>
<polyline points="299.98,294.83 307.70,294.83" fill="none" stroke="#000" stroke-width="0.78"/>
<polyline points="333.82,294.83 326.10,294.83" fill="none" stroke="#000" stroke-width="0.78"/>
<polyline points="303.58,336.51 306.67,336.51 306.67,339.09" fill="none" stroke="#000" stroke-width="0.67"/>
<polyline points="330.22,336.51 327.13,336.51 327.13,339.09" fill="none" stroke="#000" stroke-width="0.67"/>
<polyline points="275.80,354.80 307.80,354.80" fill="none" stroke="#000" stroke-width="0.90"/>
<polyline points="358.00,354.80 326.00,354.80" fill="none" stroke="#000" stroke-width="0.90"/>
<polygon points="263.83,355.40 268.00,355.40 268.00,364.93 274.55,364.93 275.38,369.10 273.60,371.24 267.16,371.24 263.83,367.91" fill="#fff" stroke="none"/>
<path d="M263.8 356.9L265.6 355.4M263.8 360.3L268.0 356.8M263.8 363.7L268.0 360.2M263.8 367.0L268.0 363.5M265.2 369.3L270.4 364.9M267.1 371.1L274.4 364.9M271.0 371.2L275.1 367.8" stroke="#000" stroke-width="0.8" fill="none"/>
<polygon points="263.83,355.40 268.00,355.40 268.00,364.93 274.55,364.93 275.38,369.10 273.60,371.24 267.16,371.24 263.83,367.91" fill="none" stroke="#000" stroke-width="0.90"/>
<polygon points="369.97,355.40 365.80,355.40 365.80,364.93 359.25,364.93 358.42,369.10 360.20,371.24 366.64,371.24 369.97,367.91" fill="#fff" stroke="none"/>
<path d="M365.8 356.2L366.7 355.4M359.2 365.1L359.4 364.9M365.8 359.5L370.0 356.0M358.4 369.1L363.4 364.9M365.8 362.9L370.0 359.4M360.1 371.1L370.0 362.8M364.0 371.2L370.0 366.2" stroke="#000" stroke-width="0.8" fill="none"/>
<polygon points="369.97,355.40 365.80,355.40 365.80,364.93 359.25,364.93 358.42,369.10 360.20,371.24 366.64,371.24 369.97,367.91" fill="none" stroke="#000" stroke-width="0.90"/>
<polygon points="268.00,356.95 278.36,356.95 278.36,364.93 268.00,364.93" fill="#fff" stroke="#000" stroke-width="0.90"/>
<polygon points="365.80,356.95 355.44,356.95 355.44,364.93 365.80,364.93" fill="#fff" stroke="#000" stroke-width="0.90"/>
<polygon points="261.21,355.40 263.83,355.40 263.83,366.72 261.21,366.72" fill="#fff" stroke="#000" stroke-width="0.78"/>
<polygon points="372.59,355.40 369.97,355.40 369.97,366.72 372.59,366.72" fill="#fff" stroke="#000" stroke-width="0.78"/>
<polygon points="262.04,360.16 264.42,360.16 264.42,361.95 262.04,361.95" fill="#fff" stroke="#000" stroke-width="0.67"/>
<polygon points="371.76,360.16 369.38,360.16 369.38,361.95 371.76,361.95" fill="#fff" stroke="#000" stroke-width="0.67"/>
<rect x="307.8" y="248.83" width="18.6" height="131.23" fill="#fff"/>
<rect x="322.6" y="248.83" width="3.6" height="131.23" fill="#999"/>
<line x1="307.80" y1="248.83" x2="307.80" y2="380.06" stroke="#000" stroke-width="0.90"/>
<line x1="310.30" y1="248.83" x2="310.30" y2="380.06" stroke="#000" stroke-width="0.90"/>
<line x1="322.60" y1="248.83" x2="322.60" y2="380.06" stroke="#444" stroke-width="0.78"/>
<line x1="326.20" y1="248.83" x2="326.20" y2="380.06" stroke="#444" stroke-width="0.78"/>
<line x1="307.80" y1="248.83" x2="326.20" y2="248.83" stroke="#000" stroke-width="0.90"/>
<polygon points="306.67,331.16 312.33,331.16 312.33,332.91 306.67,332.91" fill="#111" stroke="#000" stroke-width="0.56"/>
<polygon points="327.13,331.16 321.47,331.16 321.47,332.91 327.13,332.91" fill="#111" stroke="#000" stroke-width="0.56"/>
<line x1="312.33" y1="330.65" x2="321.59" y2="330.65" stroke="#000" stroke-width="0.78"/>
<line x1="312.33" y1="332.91" x2="321.59" y2="332.91" stroke="#000" stroke-width="0.78"/>
<path d="M298.38,383.4 Q298.38,381.49 301.0,381.49 L332.69,381.49 Q335.31,381.49 335.31,383.4 L331.73,387.68 L301.95,387.68 Z" fill="#383838" stroke="#000" stroke-width="0.90"/>
<circle cx="303.14" cy="384.35" r="0.55" fill="#ddd"/>
<circle cx="305.76" cy="384.35" r="0.55" fill="#ddd"/>
<circle cx="308.38" cy="384.35" r="0.55" fill="#ddd"/>
<circle cx="325.3" cy="384.35" r="0.55" fill="#ddd"/>
<circle cx="327.92" cy="384.35" r="0.55" fill="#ddd"/>
<circle cx="330.54" cy="384.35" r="0.55" fill="#ddd"/>
<rect x="310.29" y="379.58" width="12.51" height="8.34" rx="0" fill="#fff" stroke="#000" stroke-width="0.90"/>
<line x1="307.91" y1="379.58" x2="325.18" y2="379.58" stroke="#000" stroke-width="1.34"/>
<polygon points="309.69,388.16 323.40,388.16 323.40,404.84 321.97,407.46 311.48,407.46 309.69,404.84" fill="#fff" stroke="none"/>
<path d="M309.7 389.7L311.5 388.2M309.7 393.1L315.5 388.2M309.7 396.4L319.6 388.2M309.7 399.8L323.4 388.3M309.7 403.2L323.4 391.7M310.5 406.0L323.4 395.1M312.7 407.5L323.4 398.5M316.8 407.5L323.4 401.9M320.8 407.5L322.9 405.7" stroke="#000" stroke-width="0.8" fill="none"/>
<polygon points="309.69,388.16 323.40,388.16 323.40,404.84 321.97,407.46 311.48,407.46 309.69,404.84" fill="none" stroke="#000" stroke-width="0.90"/>
<polygon points="313.63,388.16 319.58,388.16 319.58,395.31 318.27,395.31 318.27,405.44 315.06,405.44 315.06,395.31 313.63,395.31" fill="#fff" stroke="#000" stroke-width="0.67"/>
<line x1="314.46" y1="391.73" x2="318.87" y2="391.73" stroke="#444" stroke-width="0.56"/>
<line x1="314.46" y1="395.31" x2="318.87" y2="395.31" stroke="#444" stroke-width="0.56"/>
<line x1="314.46" y1="398.88" x2="318.87" y2="398.88" stroke="#444" stroke-width="0.56"/>
<line x1="314.46" y1="402.46" x2="318.87" y2="402.46" stroke="#444" stroke-width="0.56"/>
<line x1="309.80" y1="407.46" x2="309.80" y2="454.80" stroke="#000" stroke-width="0.78"/>
<line x1="312.70" y1="407.46" x2="312.70" y2="454.80" stroke="#000" stroke-width="0.78"/>
<line x1="319.30" y1="407.46" x2="319.30" y2="454.80" stroke="#000" stroke-width="0.78"/>
<line x1="324.00" y1="407.46" x2="324.00" y2="454.80" stroke="#000" stroke-width="0.78"/>
<polygon points="299.67,470.05 333.63,470.05 338.58,477.83 338.58,479.48 294.72,479.48 294.72,477.83" fill="#fff" stroke="none"/>
<path d="M295.3 476.9L303.5 470.1M299.3 479.5L310.5 470.1M306.3 479.5L317.5 470.1M313.3 479.5L324.5 470.1M320.3 479.5L331.5 470.1M327.3 479.5L335.3 472.7M334.3 479.5L337.8 476.5" stroke="#000" stroke-width="0.99" fill="none"/>
<polygon points="299.67,470.05 333.63,470.05 338.58,477.83 338.58,479.48 294.72,479.48 294.72,477.83" fill="none" stroke="#000" stroke-width="1.01"/>
<rect x="313.58" y="470.75" width="6.61" height="8.12" rx="0" fill="#fff" stroke="#444" stroke-width="0.56"/>
<line x1="315.47" y1="472.17" x2="315.47" y2="478.87" stroke="#444" stroke-width="0.56"/>
<line x1="318.30" y1="472.17" x2="318.30" y2="478.87" stroke="#444" stroke-width="0.56"/>
<polygon points="299.67,454.95 333.63,454.95 333.63,470.05 299.67,470.05" fill="#fff" stroke="none"/>
<path d="M331.1 454.9L333.6 457.5M326.6 454.9L333.6 462.0M322.0 454.9L333.6 466.5M317.5 454.9L332.6 470.1M313.0 454.9L328.1 470.1M308.5 454.9L323.6 470.1M303.9 454.9L319.0 470.1M299.7 455.2L314.5 470.1M299.7 459.7L310.0 470.1M299.7 464.3L305.5 470.1M299.7 468.8L300.9 470.1" stroke="#000" stroke-width="1.03" fill="none"/>
<polygon points="299.67,454.95 333.63,454.95 333.63,470.05 299.67,470.05" fill="none" stroke="#000" stroke-width="1.34"/>
<polygon points="313.58,454.95 319.72,454.95 319.72,463.21 318.87,463.21 318.87,466.98 317.83,468.30 315.47,468.30 314.43,466.98 314.43,463.21 313.58,463.21" fill="#fff" stroke="#000" stroke-width="0.78"/>
<line x1="313.58" y1="458.96" x2="319.72" y2="458.96" stroke="#000" stroke-width="0.67"/>
<line x1="313.58" y1="463.21" x2="319.72" y2="463.21" stroke="#000" stroke-width="0.67"/>
<polygon points="301.32,466.60 306.04,465.80 307.22,467.22 305.57,469.72 301.32,469.72" fill="#fff" stroke="#000" stroke-width="0.78"/>
<polygon points="331.98,466.60 327.26,465.80 326.08,467.22 327.74,469.72 331.98,469.72" fill="#fff" stroke="#000" stroke-width="0.78"/>
<polygon points="294.72,479.48 300.61,479.48 300.61,483.96 303.68,485.14 305.57,497.17 306.60,505.00 306.00,515.60 300.60,515.60 300.14,505.19 294.72,499.29" fill="#fff" stroke="none"/>
<path d="M294.7 483.3L299.3 479.5M294.7 489.2L300.8 484.0M294.7 495.0L304.0 487.2M295.6 500.2L304.8 492.4M298.6 503.5L305.6 497.6M300.3 508.0L306.3 502.9M300.5 513.7L306.4 508.7M305.2 515.6L306.0 514.9" stroke="#000" stroke-width="0.99" fill="none"/>
<polygon points="294.72,479.48 300.61,479.48 300.61,483.96 303.68,485.14 305.57,497.17 306.60,505.00 306.00,515.60 300.60,515.60 300.14,505.19 294.72,499.29" fill="none" stroke="#000" stroke-width="1.01"/>
<polygon points="339.08,479.48 333.19,479.48 333.19,483.96 330.12,485.14 328.23,497.17 327.20,505.00 327.80,515.60 333.20,515.60 333.66,505.19 339.08,499.29" fill="#fff" stroke="none"/>
<path d="M333.2 480.4L334.3 479.5M329.5 489.4L339.1 481.3M328.4 496.2L339.1 487.2M327.5 502.8L339.1 493.1M327.4 508.7L339.1 498.9M327.7 514.3L333.5 509.5" stroke="#000" stroke-width="0.99" fill="none"/>
<polygon points="339.08,479.48 333.19,479.48 333.19,483.96 330.12,485.14 328.23,497.17 327.20,505.00 327.80,515.60 333.20,515.60 333.66,505.19 339.08,499.29" fill="none" stroke="#000" stroke-width="1.01"/>
<line x1="300.14" y1="479.34" x2="332.69" y2="479.34" stroke="#000" stroke-width="1.34"/>
<rect x="300.61" y="480.19" width="31.37" height="3.87" rx="0" fill="#fff" stroke="#000" stroke-width="0.90"/>
<polygon points="301.32,480.66 309.81,480.66 309.81,483.58 301.32,483.58" fill="#fff" stroke="none"/>
<path d="M306.5 480.7L309.4 483.6M302.8 480.7L305.7 483.6M301.3 482.9L302.0 483.6" stroke="#000" stroke-width="0.8" fill="none"/>
<polygon points="301.32,480.66 309.81,480.66 309.81,483.58 301.32,483.58" fill="none" stroke="#000" stroke-width="0.67"/>
<polygon points="323.02,480.66 331.75,480.66 331.75,483.58 323.02,483.58" fill="#fff" stroke="none"/>
<path d="M328.5 480.7L331.5 483.6M324.9 480.7L327.8 483.6M323.0 482.5L324.1 483.6" stroke="#000" stroke-width="0.8" fill="none"/>
<polygon points="323.02,480.66 331.75,480.66 331.75,483.58 323.02,483.58" fill="none" stroke="#000" stroke-width="0.67"/>
<rect x="310.75" y="480.90" width="11.80" height="2.21" rx="1" fill="#fff" stroke="#000" stroke-width="0.90"/>
<line x1="304.15" y1="484.76" x2="329.15" y2="484.76" stroke="#000" stroke-width="1.34"/>
<circle cx="296.13" cy="479.48" r="2.1" fill="#000"/>
<circle cx="337.67" cy="479.48" r="2.1" fill="#000"/>
<circle cx="295.9" cy="495.52" r="2.1" fill="#000"/>
<circle cx="337.9" cy="495.52" r="2.1" fill="#000"/>
<path d="M300.52,515.8 C300.52,522 296,524 290,528 C279,535 272.5,545 272.5,557" fill="none" stroke="#000" stroke-width="0.90"/>
<path d="M333.28,515.8 C333.28,522 337.79999999999995,524 343.79999999999995,528 C354.79999999999995,535 361.29999999999995,545 361.29999999999995,557" fill="none" stroke="#000" stroke-width="0.90"/>
<circle cx="332.03" cy="168.93" r="1.7" fill="#000"/>
<circle cx="301.71" cy="168.93" r="1.4" fill="#000"/>
<circle cx="294.49" cy="235.01" r="1.3" fill="#000"/>
<circle cx="339.16" cy="235.42" r="1.3" fill="#000"/>
<polygon points="260.40,366.95 263.00,366.95 263.00,741.91 260.40,741.91" fill="#fff" stroke="none"/>
<path d="M260.4 368.9L262.7 366.9M260.4 371.6L263.0 369.4M260.4 374.3L263.0 372.1M260.4 377.0L263.0 374.8M260.4 379.7L263.0 377.5M260.4 382.4L263.0 380.2M260.4 385.1L263.0 382.9M260.4 387.8L263.0 385.6M260.4 390.5L263.0 388.3M260.4 393.2L263.0 391.0M260.4 395.9L263.0 393.7M260.4 398.6L263.0 396.4M260.4 401.3L263.0 399.1M260.4 404.0L263.0 401.8M260.4 406.7L263.0 404.5M260.4 409.4L263.0 407.2M260.4 412.1L263.0 409.9M260.4 414.8L263.0 412.6M260.4 417.5L263.0 415.3M260.4 420.2L263.0 418.0M260.4 422.9L263.0 420.7M260.4 425.6L263.0 423.4M260.4 428.3L263.0 426.1M260.4 431.0L263.0 428.8M260.4 433.7L263.0 431.5M260.4 436.4L263.0 434.2M260.4 439.1L263.0 436.9M260.4 441.8L263.0 439.7M260.4 444.5L263.0 442.4M260.4 447.2L263.0 445.1M260.4 449.9L263.0 447.8M260.4 452.6L263.0 450.5M260.4 455.3L263.0 453.2M260.4 458.0L263.0 455.9M260.4 460.7L263.0 458.6M260.4 463.5L263.0 461.3M260.4 466.2L263.0 464.0M260.4 468.9L263.0 466.7M260.4 471.6L263.0 469.4M260.4 474.3L263.0 472.1M260.4 477.0L263.0 474.8M260.4 479.7L263.0 477.5M260.4 482.4L263.0 480.2M260.4 485.1L263.0 482.9M260.4 487.8L263.0 485.6M260.4 490.5L263.0 488.3M260.4 493.2L263.0 491.0M260.4 495.9L263.0 493.7M260.4 498.6L263.0 496.4M260.4 501.3L263.0 499.1M260.4 504.0L263.0 501.8M260.4 506.7L263.0 504.5M260.4 509.4L263.0 507.2M260.4 512.1L263.0 509.9M260.4 514.8L263.0 512.6M260.4 517.5L263.0 515.3M260.4 520.2L263.0 518.0M260.4 522.9L263.0 520.7M260.4 525.6L263.0 523.4M260.4 528.3L263.0 526.1M260.4 531.0L263.0 528.8M260.4 533.7L263.0 531.5M260.4 536.4L263.0 534.2M260.4 539.1L263.0 536.9M260.4 541.8L263.0 539.6M260.4 544.5L263.0 542.3M260.4 547.2L263.0 545.0M260.4 549.9L263.0 547.7M260.4 552.6L263.0 550.4M260.4 555.3L263.0 553.1M260.4 558.0L263.0 555.8M260.4 560.7L263.0 558.5M260.4 563.4L263.0 561.3M260.4 566.1L263.0 564.0M260.4 568.8L263.0 566.7M260.4 571.5L263.0 569.4M260.4 574.2L263.0 572.1M260.4 576.9L263.0 574.8M260.4 579.6L263.0 577.5M260.4 582.3L263.0 580.2M260.4 585.0L263.0 582.9M260.4 587.8L263.0 585.6M260.4 590.5L263.0 588.3M260.4 593.2L263.0 591.0M260.4 595.9L263.0 593.7M260.4 598.6L263.0 596.4M260.4 601.3L263.0 599.1M260.4 604.0L263.0 601.8M260.4 606.7L263.0 604.5M260.4 609.4L263.0 607.2M260.4 612.1L263.0 609.9M260.4 614.8L263.0 612.6M260.4 617.5L263.0 615.3M260.4 620.2L263.0 618.0M260.4 622.9L263.0 620.7M260.4 625.6L263.0 623.4M260.4 628.3L263.0 626.1M260.4 631.0L263.0 628.8M260.4 633.7L263.0 631.5M260.4 636.4L263.0 634.2M260.4 639.1L263.0 636.9M260.4 641.8L263.0 639.6M260.4 644.5L263.0 642.3M260.4 647.2L263.0 645.0M260.4 649.9L263.0 647.7M260.4 652.6L263.0 650.4M260.4 655.3L263.0 653.1M260.4 658.0L263.0 655.8M260.4 660.7L263.0 658.5M260.4 663.4L263.0 661.2M260.4 666.1L263.0 663.9M260.4 668.8L263.0 666.6M260.4 671.5L263.0 669.3M260.4 674.2L263.0 672.0M260.4 676.9L263.0 674.7M260.4 679.6L263.0 677.4M260.4 682.3L263.0 680.1M260.4 685.0L263.0 682.8M260.4 687.7L263.0 685.6M260.4 690.4L263.0 688.3M260.4 693.1L263.0 691.0M260.4 695.8L263.0 693.7M260.4 698.5L263.0 696.4M260.4 701.2L263.0 699.1M260.4 703.9L263.0 701.8M260.4 706.6L263.0 704.5M260.4 709.4L263.0 707.2M260.4 712.1L263.0 709.9M260.4 714.8L263.0 712.6M260.4 717.5L263.0 715.3M260.4 720.2L263.0 718.0M260.4 722.9L263.0 720.7M260.4 725.6L263.0 723.4M260.4 728.3L263.0 726.1M260.4 731.0L263.0 728.8M260.4 733.7L263.0 731.5M260.4 736.4L263.0 734.2M260.4 739.1L263.0 736.9M260.4 741.8L263.0 739.6" stroke="#000" stroke-width="1.03" fill="none"/>
<polygon points="260.40,366.95 263.00,366.95 263.00,741.91 260.40,741.91" fill="none" stroke="#000" stroke-width="0.78"/>
<polygon points="370.90,366.95 373.50,366.95 373.50,741.91 370.90,741.91" fill="#fff" stroke="none"/>
<path d="M370.9 368.0L372.2 366.9M370.9 370.7L373.5 368.5M370.9 373.4L373.5 371.3M370.9 376.1L373.5 374.0M370.9 378.8L373.5 376.7M370.9 381.5L373.5 379.4M370.9 384.2L373.5 382.1M370.9 386.9L373.5 384.8M370.9 389.6L373.5 387.5M370.9 392.3L373.5 390.2M370.9 395.1L373.5 392.9M370.9 397.8L373.5 395.6M370.9 400.5L373.5 398.3M370.9 403.2L373.5 401.0M370.9 405.9L373.5 403.7M370.9 408.6L373.5 406.4M370.9 411.3L373.5 409.1M370.9 414.0L373.5 411.8M370.9 416.7L373.5 414.5M370.9 419.4L373.5 417.2M370.9 422.1L373.5 419.9M370.9 424.8L373.5 422.6M370.9 427.5L373.5 425.3M370.9 430.2L373.5 428.0M370.9 432.9L373.5 430.7M370.9 435.6L373.5 433.4M370.9 438.3L373.5 436.1M370.9 441.0L373.5 438.8M370.9 443.7L373.5 441.5M370.9 446.4L373.5 444.2M370.9 449.1L373.5 446.9M370.9 451.8L373.5 449.6M370.9 454.5L373.5 452.3M370.9 457.2L373.5 455.0M370.9 459.9L373.5 457.7M370.9 462.6L373.5 460.4M370.9 465.3L373.5 463.1M370.9 468.0L373.5 465.8M370.9 470.7L373.5 468.5M370.9 473.4L373.5 471.2M370.9 476.1L373.5 473.9M370.9 478.8L373.5 476.6M370.9 481.5L373.5 479.3M370.9 484.2L373.5 482.0M370.9 486.9L373.5 484.7M370.9 489.6L373.5 487.4M370.9 492.3L373.5 490.1M370.9 495.0L373.5 492.8M370.9 497.7L373.5 495.6M370.9 500.4L373.5 498.3M370.9 503.1L373.5 501.0M370.9 505.8L373.5 503.7M370.9 508.5L373.5 506.4M370.9 511.2L373.5 509.1M370.9 513.9L373.5 511.8M370.9 516.6L373.5 514.5M370.9 519.4L373.5 517.2M370.9 522.1L373.5 519.9M370.9 524.8L373.5 522.6M370.9 527.5L373.5 525.3M370.9 530.2L373.5 528.0M370.9 532.9L373.5 530.7M370.9 535.6L373.5 533.4M370.9 538.3L373.5 536.1M370.9 541.0L373.5 538.8M370.9 543.7L373.5 541.5M370.9 546.4L373.5 544.2M370.9 549.1L373.5 546.9M370.9 551.8L373.5 549.6M370.9 554.5L373.5 552.3M370.9 557.2L373.5 555.0M370.9 559.9L373.5 557.7M370.9 562.6L373.5 560.4M370.9 565.3L373.5 563.1M370.9 568.0L373.5 565.8M370.9 570.7L373.5 568.5M370.9 573.4L373.5 571.2M370.9 576.1L373.5 573.9M370.9 578.8L373.5 576.6M370.9 581.5L373.5 579.3M370.9 584.2L373.5 582.0M370.9 586.9L373.5 584.7M370.9 589.6L373.5 587.4M370.9 592.3L373.5 590.1M370.9 595.0L373.5 592.8M370.9 597.7L373.5 595.5M370.9 600.4L373.5 598.2M370.9 603.1L373.5 600.9M370.9 605.8L373.5 603.6M370.9 608.5L373.5 606.3M370.9 611.2L373.5 609.0M370.9 613.9L373.5 611.7M370.9 616.6L373.5 614.4M370.9 619.3L373.5 617.2M370.9 622.0L373.5 619.9M370.9 624.7L373.5 622.6M370.9 627.4L373.5 625.3M370.9 630.1L373.5 628.0M370.9 632.8L373.5 630.7M370.9 635.5L373.5 633.4M370.9 638.2L373.5 636.1M370.9 640.9L373.5 638.8M370.9 643.7L373.5 641.5M370.9 646.4L373.5 644.2M370.9 649.1L373.5 646.9M370.9 651.8L373.5 649.6M370.9 654.5L373.5 652.3M370.9 657.2L373.5 655.0M370.9 659.9L373.5 657.7M370.9 662.6L373.5 660.4M370.9 665.3L373.5 663.1M370.9 668.0L373.5 665.8M370.9 670.7L373.5 668.5M370.9 673.4L373.5 671.2M370.9 676.1L373.5 673.9M370.9 678.8L373.5 676.6M370.9 681.5L373.5 679.3M370.9 684.2L373.5 682.0M370.9 686.9L373.5 684.7M370.9 689.6L373.5 687.4M370.9 692.3L373.5 690.1M370.9 695.0L373.5 692.8M370.9 697.7L373.5 695.5M370.9 700.4L373.5 698.2M370.9 703.1L373.5 700.9M370.9 705.8L373.5 703.6M370.9 708.5L373.5 706.3M370.9 711.2L373.5 709.0M370.9 713.9L373.5 711.7M370.9 716.6L373.5 714.4M370.9 719.3L373.5 717.1M370.9 722.0L373.5 719.8M370.9 724.7L373.5 722.5M370.9 727.4L373.5 725.2M370.9 730.1L373.5 727.9M370.9 732.8L373.5 730.6M370.9 735.5L373.5 733.3M370.9 738.2L373.5 736.0M370.9 740.9L373.5 738.7M373.0 741.9L373.5 741.5" stroke="#000" stroke-width="1.03" fill="none"/>
<polygon points="370.90,366.95 373.50,366.95 373.50,741.91 370.90,741.91" fill="none" stroke="#000" stroke-width="0.78"/>
<path d="M259.9,451 C263.9,459 263.9,471 261.9,477 L259.9,483 L263.79999999999995,483 L263.79999999999995,451 Z" fill="#fff" stroke="none"/>
<path d="M260.4,451 C264.0,459 264.0,471 262.0,477 L260.4,483" fill="none" stroke="#222" stroke-width="0.7"/>
<path d="M263.0,451 C265.59999999999997,459 265.59999999999997,471 264.0,477 L263.0,483" fill="none" stroke="#222" stroke-width="0.7"/>
<line x1="272.50" y1="557.00" x2="272.50" y2="701.26" stroke="#000" stroke-width="0.90"/>
<line x1="361.30" y1="557.00" x2="361.30" y2="701.26" stroke="#000" stroke-width="0.90"/>
<path d="M272.5,701.2585987261147 A44.40,38 0 0 0 361.29999999999995,701.2585987261147" fill="none" stroke="#000" stroke-width="0.90"/>
</g>
<line x1="283.60" y1="61.90" x2="283.60" y2="161.50" stroke="#000" stroke-width="0.81"/>
<line x1="479.80" y1="61.90" x2="479.80" y2="161.50" stroke="#000" stroke-width="0.81"/>
<line x1="283.60" y1="64.60" x2="479.80" y2="64.60" stroke="#000" stroke-width="0.81"/>
<polygon points="283.6,64.6 289.10,63.60 289.10,65.60" fill="#1c1c1c" stroke="#1c1c1c" stroke-width="0.4"/>
<polygon points="479.8,64.6 474.30,65.60 474.30,63.60" fill="#1c1c1c" stroke="#1c1c1c" stroke-width="0.4"/>
<text transform="translate(380.5,61.9) scale(0.8,1)" font-size="26" text-anchor="middle" fill="#fff" stroke="#111" stroke-width="0.75">S</text>
<line x1="215.40" y1="84.60" x2="331.00" y2="84.60" stroke="#000" stroke-width="0.81"/>
<line x1="215.40" y1="771.20" x2="490.00" y2="771.20" stroke="#000" stroke-width="0.81"/>
<line x1="218.50" y1="84.60" x2="218.50" y2="771.20" stroke="#000" stroke-width="0.81"/>
<polygon points="218.5,84.6 219.50,90.10 217.50,90.10" fill="#1c1c1c" stroke="#1c1c1c" stroke-width="0.4"/>
<polygon points="218.5,771.2 217.50,765.70 219.50,765.70" fill="#1c1c1c" stroke="#1c1c1c" stroke-width="0.4"/>
<text transform="translate(215.7,421.6) rotate(-90) scale(0.8,1)" font-size="27" text-anchor="middle" fill="#fff" stroke="#111" stroke-width="0.75">H</text>
<line x1="377.00" y1="314.20" x2="490.00" y2="314.20" stroke="#000" stroke-width="0.81"/>
<line x1="489.30" y1="314.20" x2="489.30" y2="771.20" stroke="#000" stroke-width="0.81"/>
<polygon points="489.3,314.2 490.30,319.70 488.30,319.70" fill="#1c1c1c" stroke="#1c1c1c" stroke-width="0.4"/>
<polygon points="489.3,771.2 488.30,765.70 490.30,765.70" fill="#1c1c1c" stroke="#1c1c1c" stroke-width="0.4"/>
<text transform="translate(484.9,543.9) rotate(-90) scale(0.8,1)" font-size="27" text-anchor="middle" fill="#fff" stroke="#111" stroke-width="0.75">h</text>
<line x1="377.50" y1="338.50" x2="442.40" y2="338.50" stroke="#000" stroke-width="0.81"/>
<polygon points="377.5,338.5 383.00,337.50 383.00,339.50" fill="#1c1c1c" stroke="#1c1c1c" stroke-width="0.4"/>
<text transform="translate(413.9,335.9) scale(0.87,1)" font-size="26" text-anchor="middle" fill="#fff" stroke="#111" stroke-width="0.75">A</text>
<line x1="845.10" y1="129.90" x2="845.10" y2="224.30" stroke="#000" stroke-width="0.81"/>
<line x1="1030.50" y1="129.90" x2="1030.50" y2="224.30" stroke="#000" stroke-width="0.81"/>
<line x1="845.10" y1="132.20" x2="1030.50" y2="132.20" stroke="#000" stroke-width="0.81"/>
<polygon points="845.1,132.2 850.60,131.20 850.60,133.20" fill="#1c1c1c" stroke="#1c1c1c" stroke-width="0.4"/>
<polygon points="1030.5,132.2 1025.00,133.20 1025.00,131.20" fill="#1c1c1c" stroke="#1c1c1c" stroke-width="0.4"/>
<text transform="translate(937.2,129.9) scale(0.85,1)" font-size="21.5" text-anchor="middle" fill="#999" stroke="#111" stroke-width="0.75">S 1</text>
<line x1="781.30" y1="151.40" x2="890.00" y2="151.40" stroke="#000" stroke-width="0.81"/>
<line x1="781.30" y1="770.50" x2="1070.00" y2="770.50" stroke="#000" stroke-width="0.81"/>
<line x1="784.30" y1="151.40" x2="784.30" y2="770.50" stroke="#000" stroke-width="0.81"/>
<polygon points="784.3,151.4 785.30,156.90 783.30,156.90" fill="#1c1c1c" stroke="#1c1c1c" stroke-width="0.4"/>
<polygon points="784.3,770.5 783.30,765.00 785.30,765.00" fill="#1c1c1c" stroke="#1c1c1c" stroke-width="0.4"/>
<text transform="translate(778.1,449) rotate(-90) scale(0.85,1)" font-size="21.5" text-anchor="middle" fill="#999" stroke="#111" stroke-width="0.75">H 1</text>
<line x1="937.20" y1="368.00" x2="1069.80" y2="368.00" stroke="#000" stroke-width="0.81"/>
<line x1="1067.00" y1="368.00" x2="1067.00" y2="770.50" stroke="#000" stroke-width="0.81"/>
<polygon points="1067,368 1068.00,373.50 1066.00,373.50" fill="#1c1c1c" stroke="#1c1c1c" stroke-width="0.4"/>
<polygon points="1067,770.5 1066.00,765.00 1068.00,765.00" fill="#1c1c1c" stroke="#1c1c1c" stroke-width="0.4"/>
<text transform="translate(1063.9,580.8) rotate(-90) scale(0.85,1)" font-size="21.5" text-anchor="middle" fill="#999" stroke="#111" stroke-width="0.75">h 1</text>
<line x1="934.50" y1="390.60" x2="998.30" y2="390.60" stroke="#000" stroke-width="0.81"/>
<polygon points="934.5,390.6 940.00,389.60 940.00,391.60" fill="#1c1c1c" stroke="#1c1c1c" stroke-width="0.4"/>
<text transform="translate(963.5,388.8) scale(0.85,1)" font-size="21" text-anchor="middle" fill="#999" stroke="#111" stroke-width="0.75">A</text>
<text transform="translate(345,821.8) scale(0.95,1)" font-size="20" text-anchor="middle" fill="#fff" stroke="#111" stroke-width="0.7">932.1</text>
<text transform="translate(921,821.8) scale(0.95,1)" font-size="20" text-anchor="middle" fill="#fff" stroke="#111" stroke-width="0.7">932.5</text>
<line x1="50.00" y1="897.00" x2="1292.30" y2="897.00" stroke="#444" stroke-width="0.95"/>
<line x1="50.00" y1="926.00" x2="1292.30" y2="926.00" stroke="#000" stroke-width="1.29"/>
<line x1="50.00" y1="956.30" x2="1292.30" y2="956.30" stroke="#000" stroke-width="1.29"/>
<line x1="50.00" y1="982.20" x2="434.30" y2="982.20" stroke="#222" stroke-width="0.84"/>
<line x1="434.30" y1="982.20" x2="1292.30" y2="982.20" stroke="#000" stroke-width="1.29"/>
<line x1="50.00" y1="1009.70" x2="434.30" y2="1009.70" stroke="#222" stroke-width="0.84"/>
<line x1="434.30" y1="1009.70" x2="1292.30" y2="1009.70" stroke="#000" stroke-width="1.29"/>
<line x1="50.00" y1="1038.00" x2="434.30" y2="1038.00" stroke="#222" stroke-width="0.84"/>
<line x1="434.30" y1="1038.00" x2="1292.30" y2="1038.00" stroke="#000" stroke-width="1.29"/>
<line x1="50.00" y1="1066.00" x2="434.30" y2="1066.00" stroke="#222" stroke-width="0.84"/>
<line x1="434.30" y1="1066.00" x2="1292.30" y2="1066.00" stroke="#000" stroke-width="1.29"/>
<line x1="50.00" y1="1094.00" x2="434.30" y2="1094.00" stroke="#222" stroke-width="0.84"/>
<line x1="434.30" y1="1094.00" x2="1292.30" y2="1094.00" stroke="#000" stroke-width="1.29"/>
<line x1="50.00" y1="1122.30" x2="1292.30" y2="1122.30" stroke="#444" stroke-width="0.95"/>
<line x1="50.00" y1="897.00" x2="50.00" y2="1122.30" stroke="#333" stroke-width="0.90"/>
<line x1="434.30" y1="897.00" x2="434.30" y2="1122.30" stroke="#333" stroke-width="0.90"/>
<line x1="872.40" y1="897.00" x2="872.40" y2="1122.30" stroke="#333" stroke-width="0.90"/>
<line x1="1292.30" y1="897.00" x2="1292.30" y2="1122.30" stroke="#333" stroke-width="0.90"/>
<text transform="translate(61.5,916.7) scale(1,1)" font-size="19.5" text-anchor="start" fill="#fff" stroke="#111" stroke-width="0.7">Nennweite</text>
<text transform="translate(61.5,979.3) scale(1,1)" font-size="19.5" text-anchor="start" fill="#fff" stroke="#111" stroke-width="0.7">Baumaße</text>
<text transform="translate(1082.3,916.8) scale(1,1)" font-size="19.5" text-anchor="middle" fill="#fff" stroke="#111" stroke-width="0.7">DN 50</text>
<text transform="translate(653.5,952) scale(1,1)" font-size="19.5" text-anchor="middle" fill="#fff" stroke="#111" stroke-width="0.7">A</text>
<text transform="translate(1082.3,952) scale(1,1)" font-size="19.5" text-anchor="middle" fill="#fff" stroke="#111" stroke-width="0.7">G 2“</text>
<text transform="translate(653.5,979.5) scale(1,1)" font-size="19.5" text-anchor="middle" fill="#fff" stroke="#111" stroke-width="0.7">H (mm)</text>
<text transform="translate(1082.3,979.5) scale(1,1)" font-size="19.5" text-anchor="middle" fill="#fff" stroke="#111" stroke-width="0.7">343</text>
<text transform="translate(653.5,1006.3) scale(1,1)" font-size="19.5" text-anchor="middle" fill="#fff" stroke="#111" stroke-width="0.7">h (mm)</text>
<text transform="translate(1082.3,1006.3) scale(1,1)" font-size="19.5" text-anchor="middle" fill="#fff" stroke="#111" stroke-width="0.7">229</text>
<text transform="translate(653.5,1034.1) scale(1,1)" font-size="19.5" text-anchor="middle" fill="#fff" stroke="#111" stroke-width="0.7">S (mm)</text>
<text transform="translate(1082.3,1034.1) scale(1,1)" font-size="19.5" text-anchor="middle" fill="#fff" stroke="#111" stroke-width="0.7">64 x 98</text>
<text transform="translate(653.5,1062.6) scale(1,1)" font-size="19.5" text-anchor="middle" fill="#fff" stroke="#111" stroke-width="0.7">H 1 (mm)</text>
<text transform="translate(1082.3,1062.6) scale(1,1)" font-size="19.5" text-anchor="middle" fill="#fff" stroke="#111" stroke-width="0.7">247</text>
<text transform="translate(653.5,1090.1) scale(1,1)" font-size="19.5" text-anchor="middle" fill="#fff" stroke="#111" stroke-width="0.7">h 1 (mm)</text>
<text transform="translate(1082.3,1090.1) scale(1,1)" font-size="19.5" text-anchor="middle" fill="#fff" stroke="#111" stroke-width="0.7">150</text>
<text transform="translate(653.5,1118.6) scale(1,1)" font-size="19.5" text-anchor="middle" fill="#fff" stroke="#111" stroke-width="0.7">S 1 (mm)</text>
<text transform="translate(1082.3,1118.6) scale(1,1)" font-size="19.5" text-anchor="middle" fill="#fff" stroke="#111" stroke-width="0.7">64 x 98</text>
</svg>
</body></html>
